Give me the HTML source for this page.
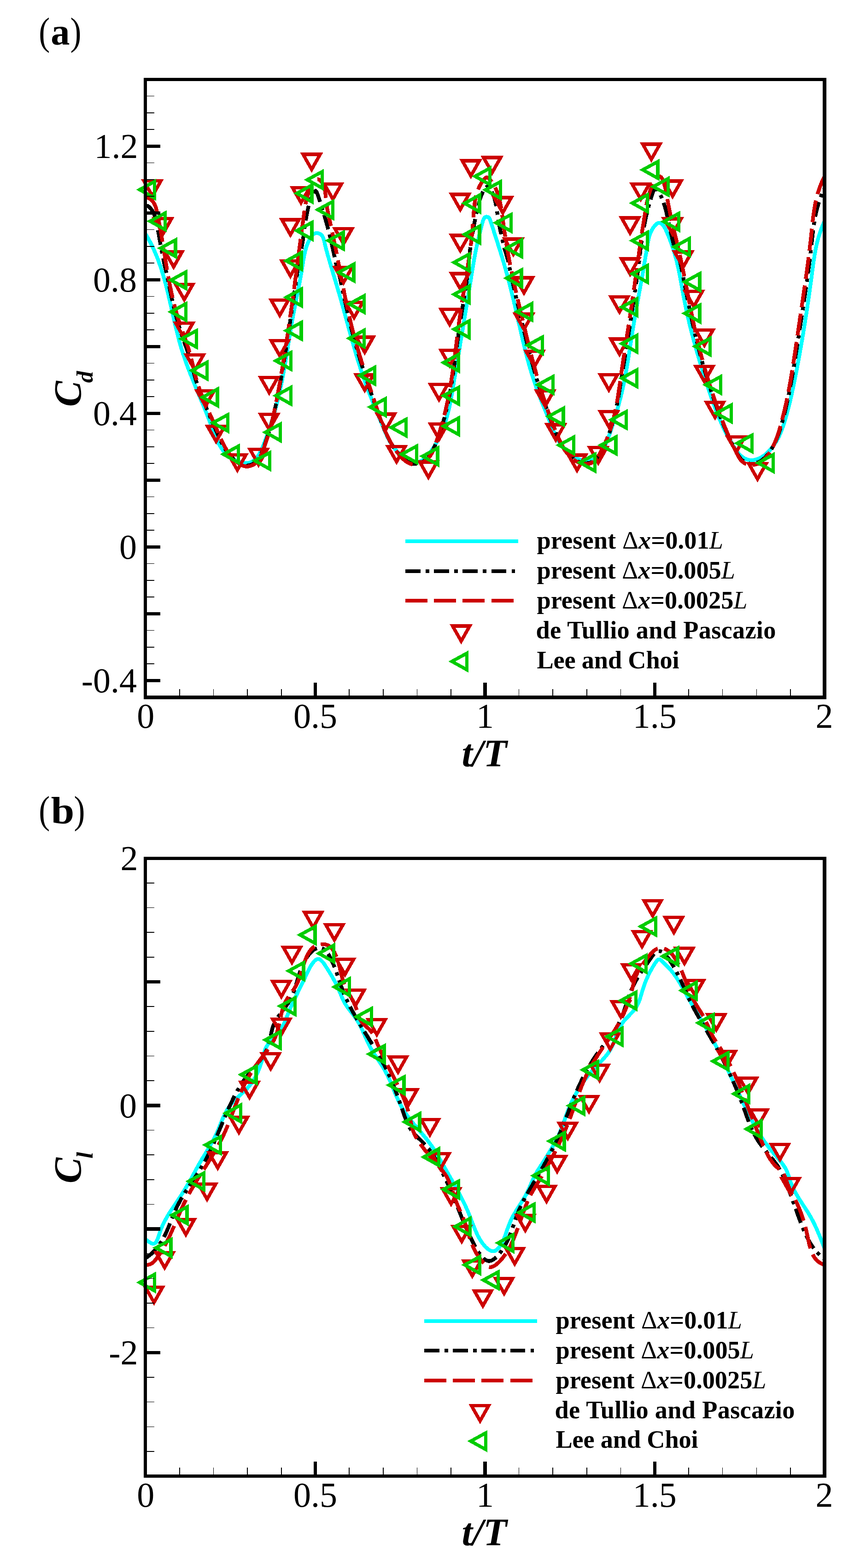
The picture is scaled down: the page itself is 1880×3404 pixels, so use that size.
<!DOCTYPE html><html lang="en"><head><meta charset="utf-8"><title>Force coefficients</title>
<style>html,body{margin:0;padding:0;background:#fff}body{width:1880px;height:3404px;overflow:hidden}svg{display:block}</style></head><body>
<svg width="1880" height="3404" viewBox="0 0 1880 3404">
<rect width="1880" height="3404" fill="#fff"/>
<g id="panel-a">
<clipPath id="ca"><rect x="315.5" y="172.5" width="1474.5" height="1341.5"/></clipPath><g clip-path="url(#ca)" fill="none" stroke-width="8.2" stroke-linejoin="round" shape-rendering="crispEdges"><path d="M313.3 503.8L315.4 507.1L317.5 510.5L319.5 513.9L321.5 517.4L323.4 520.9L325.3 524.3L327.2 527.8L328.9 531.4L330.7 534.9L332.4 538.5L334 542.1L335.6 545.7L337.2 549.3L338.7 553L340.2 556.7L341.7 560.3L343.1 564L344.4 567.8L345.8 571.5L347.1 575.2L348.4 579L349.6 582.8L350.9 586.6L352 590.4L353.2 594.2L354.4 598L355.5 601.8L356.6 605.7L357.6 609.6L358.7 613.4L359.7 617.3L360.7 621.2L361.7 625.1L362.7 629L363.7 632.9L364.6 636.8L365.6 640.7L366.5 644.6L367.4 648.5L368.3 652.5L369.2 656.4L370.1 660.3L371 664.3L371.9 668.2L372.8 672.1L373.7 676.1L374.6 680L375.5 683.9L376.4 687.9L377.2 691.8L378.1 695.7L379.1 699.7L380 703.6L380.9 707.5L381.8 711.4L382.8 715.3L383.7 719.2L384.7 723.1L385.7 727L386.7 730.9L387.7 734.8L388.7 738.6L389.7 742.5L390.8 746.3L391.9 750.2L393 754L394.2 757.8L395.3 761.6L396.5 765.4L397.7 769.2L399 772.9L400.3 776.7L401.5 780.4L402.9 784.2L404.2 787.9L405.5 791.6L406.9 795.3L408.3 799L409.7 802.7L411.1 806.4L412.6 810.1L414 813.8L415.5 817.4L417 821.1L418.5 824.8L420 828.5L421.5 832.1L423 835.8L424.5 839.5L426 843.1L427.6 846.8L429.1 850.5L430.7 854.2L432.2 857.8L433.7 861.5L435.3 865.2L436.8 868.9L438.4 872.6L439.9 876.3L441.4 880.1L443 883.8L444.5 887.5L446 891.3L447.5 895L449 898.8L450.5 902.6L452 906.4L453.5 910.2L454.9 914L456.4 917.9L457.8 921.7L459.2 925.6L460.6 929.5L462 933.3L463.5 937.2L464.9 941L466.4 944.8L468 948.6L469.6 952.3L471.3 956L473 959.6L474.8 963.2L476.8 966.7L478.8 970L480.9 973.3L483.2 976.5L485.6 979.6L488.1 982.6L490.8 985.4L493.7 988.2L496.7 990.7L499.9 993.2L503.3 995.4L506.9 997.5L510.6 999.4L514.4 1001.1L518.4 1002.6L522.3 1003.7L526.2 1004.6L530.1 1005.1L533.9 1005.3L537.6 1005.1L541.1 1004.5L544.5 1003.4L547.6 1001.9L550.5 1000.1L553.2 997.9L555.8 995.3L558.2 992.5L560.4 989.4L562.5 986L564.5 982.5L566.4 978.8L568.3 975L570 971L571.6 967L573.2 963L574.8 958.9L576.3 954.9L577.8 950.9L579.3 946.9L580.7 942.9L582.1 939L583.4 935L584.8 931.1L586.1 927.2L587.4 923.3L588.6 919.4L589.8 915.5L591 911.7L592.2 907.8L593.3 904L594.5 900.1L595.6 896.3L596.6 892.5L597.7 888.6L598.7 884.8L599.7 881L600.7 877.2L601.7 873.4L602.6 869.6L603.6 865.8L604.5 862L605.4 858.2L606.2 854.4L607.1 850.6L607.9 846.8L608.8 842.9L609.6 839.1L610.4 835.3L611.2 831.5L611.9 827.6L612.7 823.8L613.4 819.9L614.2 816L614.9 812.1L615.6 808.3L616.3 804.4L617 800.4L617.7 796.5L618.4 792.6L619.1 788.6L619.8 784.7L620.4 780.7L621.1 776.7L621.8 772.7L622.4 768.8L623.1 764.8L623.7 760.8L624.4 756.8L625 752.8L625.6 748.8L626.3 744.8L626.9 740.8L627.6 736.7L628.2 732.7L628.9 728.7L629.5 724.7L630.2 720.7L630.9 716.7L631.5 712.7L632.2 708.7L632.9 704.8L633.6 700.8L634.3 696.8L635 692.9L635.7 688.9L636.4 685L637.2 681L637.9 677.1L638.6 673.2L639.4 669.3L640.2 665.4L640.9 661.5L641.7 657.6L642.5 653.7L643.2 649.8L644 645.9L644.8 642.1L645.6 638.2L646.3 634.3L647.1 630.4L647.9 626.5L648.6 622.6L649.4 618.7L650.1 614.8L650.9 610.9L651.6 607L652.3 603.1L653 599.1L653.7 595.2L654.4 591.3L655 587.3L655.7 583.3L656.3 579.3L657 575.3L657.6 571.3L658.2 567.3L658.9 563.3L659.6 559.3L660.3 555.3L661.2 551.3L662.1 547.4L663 543.5L664.1 539.6L665.3 535.8L666.6 532L668.1 528.3L669.7 524.6L671.4 521L673.4 517.4L675.5 514L677.9 510.8L680.7 508.3L683.9 506.6L687.8 506L692 506.7L695.9 508.5L698.8 511.2L700.9 514.5L702.4 518.3L703.5 522.4L704.5 526.5L705.5 530.6L706.5 534.7L707.5 538.6L708.5 542.6L709.6 546.5L710.6 550.4L711.7 554.2L712.8 558.1L713.9 561.9L715 565.7L716.1 569.4L717.2 573.2L718.3 577L719.4 580.8L720.5 584.5L721.7 588.3L722.8 592.1L723.9 595.9L725.1 599.8L726.2 603.6L727.4 607.5L728.5 611.3L729.7 615.2L730.8 619L731.9 622.9L733.1 626.8L734.2 630.7L735.3 634.5L736.5 638.4L737.6 642.3L738.7 646.2L739.8 650.1L740.9 653.9L742 657.8L743.1 661.7L744.1 665.5L745.2 669.4L746.3 673.3L747.3 677.1L748.4 681L749.5 684.8L750.5 688.7L751.6 692.5L752.6 696.4L753.7 700.2L754.7 704.1L755.8 707.9L756.8 711.7L757.9 715.6L758.9 719.4L760 723.2L761 727.1L762.1 730.9L763.2 734.7L764.2 738.5L765.3 742.4L766.4 746.2L767.5 750L768.6 753.8L769.7 757.6L770.8 761.5L771.9 765.3L773 769.1L774.2 772.9L775.3 776.7L776.5 780.5L777.7 784.3L778.8 788.1L780 791.9L781.3 795.7L782.5 799.5L783.7 803.3L785 807.2L786.2 811L787.5 814.8L788.8 818.6L790.1 822.4L791.5 826.2L792.8 830L794.2 833.8L795.6 837.6L797 841.4L798.5 845.2L799.9 849L801.4 852.8L802.9 856.6L804.4 860.3L805.9 864.1L807.4 867.9L808.9 871.7L810.5 875.5L812 879.2L813.5 883L815.1 886.7L816.6 890.5L818.2 894.2L819.7 897.9L821.3 901.6L822.8 905.3L824.3 909L825.8 912.6L827.3 916.3L828.8 919.9L830.3 923.5L831.8 927.1L833.2 930.7L834.7 934.3L836.2 937.8L837.7 941.3L839.3 944.8L840.9 948.3L842.7 951.7L844.5 955.2L846.4 958.6L848.4 961.9L850.5 965.3L852.8 968.6L855.2 971.9L857.8 975.2L860.6 978.4L863.6 981.6L866.7 984.7L869.9 987.6L873.2 990.4L876.6 993.1L880.1 995.5L883.7 997.6L887.2 999.5L890.8 1001L894.4 1002.2L898 1003L901.6 1003.4L905 1003.3L908.5 1002.8L911.8 1001.8L915 1000.2L918.1 998.3L921.2 996L924.1 993.4L927 990.5L929.7 987.4L932.4 984.1L934.9 980.8L937.4 977.3L939.8 973.9L942.1 970.4L944.3 966.9L946.4 963.4L948.4 959.8L950.3 956.3L952.2 952.7L954 949.1L955.7 945.4L957.4 941.8L959 938.1L960.5 934.4L961.9 930.7L963.3 926.9L964.6 923.2L965.9 919.4L967.1 915.6L968.3 911.8L969.4 908L970.5 904.2L971.5 900.3L972.5 896.5L973.5 892.6L974.4 888.7L975.3 884.8L976.1 880.9L976.9 877L977.7 873.1L978.5 869.2L979.2 865.3L980 861.4L980.7 857.4L981.4 853.5L982 849.5L982.7 845.6L983.4 841.6L984 837.7L984.7 833.7L985.3 829.8L986 825.8L986.6 821.9L987.3 817.9L988 814L988.6 810L989.3 806.1L989.9 802.1L990.6 798.2L991.2 794.2L991.9 790.3L992.6 786.4L993.2 782.4L993.9 778.5L994.5 774.5L995.2 770.6L995.8 766.6L996.5 762.7L997.2 758.7L997.8 754.8L998.5 750.8L999.1 746.9L999.8 742.9L1000.4 739L1001.1 735.1L1001.8 731.1L1002.4 727.2L1003.1 723.2L1003.7 719.3L1004.4 715.3L1005 711.4L1005.7 707.4L1006.3 703.5L1007 699.5L1007.7 695.6L1008.3 691.6L1009 687.7L1009.6 683.8L1010.3 679.8L1010.9 675.9L1011.6 671.9L1012.2 668L1012.9 664L1013.5 660.1L1014.2 656.1L1014.8 652.2L1015.4 648.2L1016.1 644.3L1016.7 640.3L1017.4 636.4L1018 632.4L1018.7 628.5L1019.3 624.5L1019.9 620.5L1020.6 616.6L1021.2 612.6L1021.8 608.6L1022.5 604.7L1023.1 600.7L1023.7 596.7L1024.4 592.8L1025 588.8L1025.7 584.9L1026.3 580.9L1027 577L1027.6 573L1028.3 569.1L1029 565.2L1029.7 561.3L1030.4 557.4L1031.1 553.5L1031.9 549.6L1032.6 545.7L1033.4 541.9L1034.2 538.1L1035 534.2L1035.8 530.4L1036.7 526.6L1037.5 522.8L1038.4 518.9L1039.4 515L1040.3 511L1041.3 507L1042.3 502.8L1043.3 498.7L1044.4 494.4L1045.5 490.2L1046.6 486.1L1047.7 482.1L1048.9 478.2L1050.3 474.6L1052.5 471.8L1055.9 470.5L1059.4 471.1L1062.1 473.5L1063.8 476.9L1065.2 480.9L1066.4 484.9L1067.7 488.8L1069 492.8L1070.3 496.7L1071.6 500.6L1072.8 504.6L1074.1 508.5L1075.3 512.3L1076.6 516.2L1077.8 520.1L1079 523.9L1080.3 527.7L1081.5 531.5L1082.7 535.3L1083.9 539.1L1085.1 542.9L1086.3 546.7L1087.4 550.5L1088.6 554.3L1089.8 558L1090.9 561.8L1092 565.6L1093.2 569.4L1094.3 573.2L1095.4 577.1L1096.5 580.9L1097.6 584.7L1098.6 588.6L1099.7 592.4L1100.8 596.3L1101.8 600.1L1102.9 604L1103.9 607.9L1104.9 611.8L1105.9 615.6L1106.9 619.5L1107.9 623.4L1108.9 627.3L1109.9 631.2L1110.8 635.1L1111.8 639L1112.8 642.9L1113.7 646.8L1114.7 650.8L1115.6 654.7L1116.5 658.6L1117.5 662.5L1118.4 666.4L1119.3 670.3L1120.2 674.2L1121.1 678.1L1122 682L1122.9 685.9L1123.8 689.8L1124.7 693.7L1125.5 697.6L1126.4 701.5L1127.3 705.3L1128.2 709.2L1129.1 713.1L1129.9 717L1130.8 720.8L1131.7 724.7L1132.6 728.6L1133.5 732.4L1134.4 736.3L1135.3 740.2L1136.2 744L1137.2 747.9L1138.1 751.8L1139 755.6L1140 759.5L1141 763.3L1141.9 767.2L1142.9 771L1143.9 774.9L1145 778.7L1146 782.5L1147.1 786.4L1148.1 790.2L1149.2 794.1L1150.3 797.9L1151.4 801.7L1152.6 805.6L1153.7 809.4L1154.9 813.2L1156.1 817.1L1157.4 820.9L1158.6 824.7L1159.9 828.6L1161.2 832.4L1162.5 836.2L1163.9 840.1L1165.3 843.9L1166.7 847.7L1168.1 851.5L1169.5 855.3L1171 859.1L1172.5 862.9L1173.9 866.7L1175.4 870.5L1176.9 874.3L1178.4 878.1L1179.9 881.8L1181.5 885.6L1183 889.3L1184.5 893L1186 896.7L1187.5 900.4L1189 904.1L1190.5 907.8L1192 911.4L1193.5 915L1194.9 918.7L1196.4 922.2L1197.9 925.8L1199.3 929.4L1200.8 932.9L1202.3 936.4L1203.9 939.9L1205.5 943.3L1207.2 946.8L1209 950.2L1210.9 953.6L1212.8 956.9L1214.9 960.3L1217.1 963.5L1219.4 966.8L1221.9 970.1L1224.5 973.2L1227.3 976.4L1230.2 979.4L1233.3 982.3L1236.5 985.1L1239.8 987.8L1243.3 990.2L1246.9 992.5L1250.6 994.5L1254.5 996.3L1258.4 997.8L1262.4 999L1266.4 999.9L1270.3 1000.5L1274.2 1000.7L1278 1000.5L1281.6 999.9L1285 998.9L1288.3 997.5L1291.4 995.8L1294.3 993.7L1297 991.3L1299.6 988.6L1302.1 985.7L1304.4 982.6L1306.7 979.3L1308.7 975.8L1310.7 972.2L1312.6 968.5L1314.4 964.8L1316.1 961L1317.7 957.1L1319.2 953.3L1320.7 949.5L1322.1 945.7L1323.5 941.9L1324.8 938.1L1326.1 934.3L1327.3 930.5L1328.6 926.6L1329.8 922.8L1331 919L1332.2 915.2L1333.4 911.4L1334.6 907.5L1335.8 903.7L1336.9 899.9L1338.1 896.1L1339.2 892.2L1340.3 888.4L1341.4 884.6L1342.5 880.7L1343.5 876.9L1344.6 873L1345.6 869.2L1346.6 865.3L1347.6 861.4L1348.5 857.6L1349.5 853.7L1350.4 849.8L1351.3 845.9L1352.2 842L1353 838.1L1353.9 834.2L1354.7 830.3L1355.5 826.4L1356.2 822.5L1357 818.6L1357.7 814.6L1358.5 810.7L1359.2 806.8L1359.9 802.8L1360.6 798.9L1361.2 794.9L1361.9 791L1362.6 787L1363.2 783.1L1363.9 779.1L1364.5 775.2L1365.1 771.2L1365.7 767.2L1366.3 763.3L1367 759.3L1367.6 755.3L1368.2 751.4L1368.8 747.4L1369.4 743.5L1370 739.5L1370.6 735.5L1371.2 731.6L1371.8 727.6L1372.5 723.7L1373.1 719.7L1373.7 715.8L1374.4 711.8L1375 707.9L1375.7 704L1376.3 700L1377 696.1L1377.7 692.1L1378.3 688.2L1379 684.3L1379.7 680.3L1380.4 676.4L1381.1 672.5L1381.8 668.6L1382.5 664.6L1383.2 660.7L1383.9 656.8L1384.6 652.8L1385.3 648.9L1386 645L1386.7 641L1387.4 637.1L1388.2 633.2L1388.9 629.2L1389.6 625.3L1390.3 621.4L1391 617.4L1391.7 613.5L1392.4 609.5L1393.1 605.6L1393.8 601.6L1394.5 597.7L1395.2 593.7L1395.9 589.7L1396.5 585.8L1397.2 581.8L1397.9 577.8L1398.6 573.8L1399.2 569.9L1399.9 565.9L1400.6 562L1401.2 558L1401.9 554.1L1402.6 550.1L1403.2 546.2L1403.9 542.4L1404.6 538.5L1405.3 534.6L1405.9 530.8L1406.6 527L1407.3 523.3L1408 519.5L1408.8 515.8L1409.8 511.9L1411.1 508L1412.8 503.9L1415 499.6L1417.6 495.1L1420.6 491L1423.7 487.5L1426.7 485.1L1429.6 484L1432.3 483.9L1434.9 484.9L1437.4 486.8L1439.7 489.4L1441.9 492.6L1444 496.3L1446 500.3L1447.9 504.5L1449.6 508.8L1451.4 513L1453 517.1L1454.5 521.1L1456 524.9L1457.4 528.7L1458.8 532.5L1460 536.2L1461.3 539.9L1462.5 543.6L1463.6 547.4L1464.7 551.1L1465.8 554.9L1466.8 558.7L1467.8 562.5L1468.8 566.3L1469.7 570.1L1470.6 574L1471.5 577.8L1472.3 581.7L1473.2 585.6L1474 589.5L1474.8 593.4L1475.5 597.3L1476.3 601.2L1477 605.2L1477.8 609.1L1478.5 613L1479.2 617L1479.9 620.9L1480.6 624.8L1481.3 628.8L1482.1 632.7L1482.8 636.7L1483.5 640.6L1484.3 644.6L1485 648.5L1485.8 652.5L1486.6 656.4L1487.4 660.4L1488.2 664.3L1489 668.2L1489.8 672.2L1490.7 676.1L1491.5 680L1492.4 683.9L1493.3 687.8L1494.2 691.7L1495.1 695.7L1496 699.6L1497 703.5L1497.9 707.4L1498.9 711.3L1499.8 715.1L1500.8 719L1501.8 722.9L1502.8 726.8L1503.8 730.7L1504.9 734.5L1505.9 738.4L1507 742.3L1508 746.1L1509.1 750L1510.2 753.9L1511.2 757.7L1512.3 761.6L1513.4 765.4L1514.6 769.2L1515.7 773.1L1516.8 776.9L1517.9 780.7L1519.1 784.6L1520.2 788.4L1521.4 792.2L1522.6 796L1523.7 799.8L1524.9 803.7L1526.1 807.5L1527.3 811.3L1528.5 815.1L1529.7 818.8L1530.9 822.6L1532.2 826.4L1533.4 830.2L1534.6 834L1535.9 837.8L1537.1 841.5L1538.4 845.3L1539.6 849L1540.9 852.8L1542.1 856.6L1543.4 860.3L1544.7 864.1L1546 867.8L1547.3 871.5L1548.7 875.3L1550 879L1551.4 882.7L1552.8 886.4L1554.2 890.2L1555.6 893.9L1557.1 897.6L1558.6 901.3L1560.1 905L1561.6 908.7L1563.2 912.4L1564.8 916L1566.4 919.7L1568.1 923.4L1569.8 927.1L1571.5 930.7L1573.3 934.4L1575.1 938.1L1577 941.7L1578.8 945.4L1580.8 949L1582.8 952.6L1584.8 956.3L1586.8 959.9L1589 963.5L1591.1 967.1L1593.4 970.7L1595.7 974.2L1598 977.5L1600.5 980.8L1603 983.9L1605.7 986.7L1608.4 989.4L1611.3 991.8L1614.3 993.9L1617.4 995.6L1620.7 997.1L1624.1 998.1L1627.6 998.8L1631.4 999L1635.3 998.8L1639.3 998L1643.4 996.9L1647.4 995.4L1651.3 993.5L1655 991.3L1658.6 988.9L1662 986.2L1665.2 983.3L1668.3 980.4L1671.2 977.3L1673.9 974.1L1676.5 971L1678.9 967.7L1681.2 964.5L1683.4 961.2L1685.4 957.9L1687.4 954.5L1689.2 951.1L1690.9 947.7L1692.6 944.2L1694.1 940.7L1695.6 937.2L1697 933.7L1698.3 930.1L1699.6 926.5L1700.8 922.9L1702 919.2L1703.2 915.5L1704.3 911.8L1705.4 908.1L1706.5 904.4L1707.6 900.6L1708.6 896.8L1709.6 893L1710.6 889.2L1711.6 885.4L1712.6 881.6L1713.6 877.7L1714.5 873.8L1715.5 869.9L1716.4 866L1717.3 862.1L1718.2 858.2L1719 854.2L1719.9 850.3L1720.8 846.3L1721.6 842.4L1722.4 838.4L1723.3 834.5L1724.1 830.5L1724.9 826.5L1725.7 822.5L1726.5 818.5L1727.3 814.6L1728 810.6L1728.8 806.6L1729.6 802.6L1730.3 798.7L1731.1 794.7L1731.8 790.7L1732.6 786.7L1733.3 782.7L1734.1 778.8L1734.8 774.8L1735.5 770.8L1736.2 766.8L1736.9 762.8L1737.6 758.9L1738.3 754.9L1739 750.9L1739.7 746.9L1740.4 743L1741.1 739L1741.8 735L1742.4 731.1L1743.1 727.1L1743.8 723.1L1744.4 719.2L1745.1 715.2L1745.7 711.2L1746.3 707.3L1747 703.3L1747.6 699.3L1748.2 695.4L1748.8 691.4L1749.5 687.4L1750.1 683.5L1750.7 679.5L1751.3 675.6L1751.9 671.6L1752.5 667.7L1753.1 663.7L1753.6 659.8L1754.2 655.8L1754.8 651.9L1755.4 647.9L1755.9 644L1756.5 640.1L1757 636.1L1757.6 632.2L1758.1 628.2L1758.7 624.3L1759.2 620.4L1759.8 616.5L1760.3 612.5L1760.8 608.6L1761.4 604.7L1761.9 600.8L1762.4 596.8L1762.9 592.9L1763.4 589L1763.9 585.1L1764.5 581.2L1765 577.3L1765.5 573.4L1766.1 569.5L1766.6 565.6L1767.2 561.7L1767.8 557.8L1768.4 553.9L1769.1 550L1769.8 546.1L1770.5 542.3L1771.3 538.4L1772.1 534.5L1772.9 530.6L1773.9 526.8L1774.8 522.9L1775.8 519L1776.9 515.2L1778 511.3L1779.3 507.5L1780.5 503.6L1781.9 499.8L1783.3 495.9L1784.8 492.1L1786.4 488.2L1788.1 484.4L1789.8 480.6L1791.7 476.7L1793.6 472.9" stroke="#00ffff"/><path d="M313.3 447.5L314.8 447.4L316.3 447.3L317.8 447.2L319.3 447L320.8 446.9L322.3 448L323.8 449.2L325.3 450.7L326.8 452.3L328.3 454.2L329.8 456.3L331.3 458.7L332.8 461.5L334.3 464.8L335.8 468.6L337.3 473.2L338.8 478.7L340.3 485.3L341.8 493.1L343.3 501.5L344.8 510L346.3 518.5L347.8 527L349.3 535.3L350.8 543.4L352.3 551.3L353.8 559L355.3 566.3L356.8 573.5L358.3 580.2L359.8 585.8L361.3 591.8L362.8 598.4L364.3 605.5L365.8 613.3L367.3 621L368.8 628.4L370.3 635.5L371.8 642.6L373.3 649.4L374.8 656L376.3 662.4L377.8 668.6L379.3 674.7L380.8 680.5L382.3 686.2L383.8 691.7L385.3 697.1L386.8 702.3L388.3 707.3L389.8 712.1L391.3 716.9L392.8 721.5L394.3 726L395.8 730.4L397.3 734.8L398.8 739.1L400.3 743.4L401.8 747.6L403.3 751.9L404.8 756.2L406.3 760.5L407.8 765L409.3 769.5L410.8 774.1L412.3 778.9L413.8 784L415.3 789.2L416.8 794.7L418.3 800.2L419.8 805.8L421.3 811.4L422.8 816.8L424.3 822.1L425.8 827.1L427.3 831.9L428.8 836.5L430.3 840.9L431.8 845.1L433.3 849.2L434.8 853.1L436.3 857L437.8 860.8L439.3 864.6L440.8 868.3L442.3 871.9L443.8 875.6L445.3 879.1L446.8 882.7L448.3 886.2L449.8 889.8L451.3 893.3L452.8 896.8L454.3 900.3L455.8 903.8L457.3 907.3L458.8 910.9L460.3 914.4L461.8 918L463.3 921.5L464.8 925L466.3 928.5L467.8 932L469.3 935.4L470.8 938.8L472.3 942.2L473.8 945.6L475.3 948.9L476.8 952.1L478.3 955.2L479.8 958.3L481.3 961.3L482.8 964.1L484.3 966.9L485.8 969.5L487.3 972.1L488.8 974.5L490.3 976.8L491.8 979L493.3 981.2L494.8 983.2L496.3 985.1L497.8 986.9L499.3 988.7L500.8 990.4L502.3 992L503.8 993.5L505.3 995L506.8 996.4L508.3 997.7L509.8 999L511.3 1000.2L512.8 1001.3L514.3 1002.4L515.8 1003.5L517.3 1004.5L518.8 1005.4L520.3 1006.3L521.8 1007.1L523.3 1007.8L524.8 1008.4L526.3 1009L527.8 1009.5L529.3 1009.9L530.8 1010.2L532.3 1010.4L533.8 1010.6L535.3 1010.6L536.8 1010.6L538.3 1010.5L539.8 1010.3L541.3 1010L542.8 1009.6L544.3 1009.2L545.8 1008.6L547.3 1008L548.8 1007.3L550.3 1006.4L551.8 1005.4L553.3 1004.3L554.8 1003L556.3 1001.6L557.8 1000L559.3 998.1L560.8 996.1L562.3 993.8L563.8 991.1L565.3 988.2L566.8 985L568.3 981.6L569.8 978L571.3 974.2L572.8 970.3L574.3 966.3L575.8 962.1L577.3 957.9L578.8 953.5L580.3 949L581.8 944.4L583.3 939.6L584.8 934.7L586.3 929.6L587.8 924.3L589.3 918.8L590.8 913.1L592.3 907.3L593.8 901.2L595.3 894.9L596.8 888.3L598.3 881.6L599.8 874.6L601.3 867.3L602.8 859.9L604.3 852.3L605.8 844.5L607.3 836.6L608.8 828.6L610.3 820.3L611.8 811.9L613.3 803.4L614.8 794.6L616.3 785.7L617.8 776.6L619.3 767.4L620.8 758L622.3 748.4L623.8 738.7L625.3 728.8L626.8 718.9L628.3 708.9L629.8 698.8L631.3 688.6L632.8 678.4L634.3 668.2L635.8 657.9L637.3 647.7L638.8 637.4L640.3 627.1L641.8 616.8L643.3 606.5L644.8 596.2L646.3 586.3L647.8 576.5L649.3 567.2L650.8 558.8L652.3 551.4L653.8 543.8L655.3 535.3L656.8 526.3L658.3 516.5L659.8 505.8L661.3 494.8L662.8 484.4L664.3 474.8L665.8 466.4L667.3 458.9L668.8 452.2L670.3 446.2L671.8 440.8L673.3 436.1L674.8 432L676.3 428.4L677.8 425.2L679.3 422.3L680.8 419.6L682.3 417.2L683.8 415.1L685.3 414.4L686.8 415.8L688.3 419L689.8 423.2L691.3 427.6L692.8 432.1L694.3 436.6L695.8 441.2L697.3 445.8L698.8 450.5L700.3 455.3L701.8 460.2L703.3 465.2L704.8 470.2L706.3 475.4L707.8 480.7L709.3 486.1L710.8 491.6L712.3 497.3L713.8 503.2L715.3 509.2L716.8 515.3L718.3 521.7L719.8 528.1L721.3 534.8L722.8 541.5L724.3 548.3L725.8 555.1L727.3 561.9L728.8 568.6L730.3 575.1L731.8 580.2L733.3 585.3L734.8 590.7L736.3 596.2L737.8 602.2L739.3 609.1L740.8 616.2L742.3 623.3L743.8 630.3L745.3 637.3L746.8 644.3L748.3 651.2L749.8 658L751.3 664.8L752.8 671.4L754.3 678L755.8 684.4L757.3 690.8L758.8 697L760.3 703.2L761.8 709.2L763.3 715.1L764.8 721L766.3 726.7L767.8 732.3L769.3 737.8L770.8 743.2L772.3 748.6L773.8 753.8L775.3 759L776.8 764.1L778.3 769.2L779.8 774.2L781.3 779.1L782.8 784L784.3 788.8L785.8 793.6L787.3 798.3L788.8 803L790.3 807.6L791.8 812.2L793.3 816.8L794.8 821.3L796.3 825.8L797.8 830.2L799.3 834.6L800.8 839L802.3 843.4L803.8 847.8L805.3 852.1L806.8 856.4L808.3 860.7L809.8 865L811.3 869.3L812.8 873.6L814.3 877.9L815.8 882.1L817.3 886.4L818.8 890.7L820.3 894.9L821.8 899.2L823.3 903.3L824.8 907.5L826.3 911.5L827.8 915.5L829.3 919.5L830.8 923.3L832.3 927.1L833.8 930.8L835.3 934.4L836.8 937.9L838.3 941.2L839.8 944.5L841.3 947.6L842.8 950.7L844.3 953.6L845.8 956.4L847.3 959.1L848.8 961.7L850.3 964.2L851.8 966.6L853.3 968.9L854.8 971.2L856.3 973.4L857.8 975.5L859.3 977.5L860.8 979.5L862.3 981.4L863.8 983.2L865.3 985L866.8 986.8L868.3 988.5L869.8 990.1L871.3 991.6L872.8 993.1L874.3 994.5L875.8 995.8L877.3 997.1L878.8 998.3L880.3 999.5L881.8 1000.5L883.3 1001.5L884.8 1002.3L886.3 1003.2L887.8 1003.9L889.3 1004.6L890.8 1005.2L892.3 1005.6L893.8 1006.1L895.3 1006.4L896.8 1006.7L898.3 1006.9L899.8 1007L901.3 1007L902.8 1006.9L904.3 1006.8L905.8 1006.6L907.3 1006.3L908.8 1006L910.3 1005.5L911.8 1005.1L913.3 1004.5L914.8 1003.8L916.3 1003.1L917.8 1002.3L919.3 1001.4L920.8 1000.4L922.3 999.4L923.8 998.2L925.3 997L926.8 995.7L928.3 994.2L929.8 992.7L931.3 990.9L932.8 989.1L934.3 987.1L935.8 984.8L937.3 982.3L938.8 979.5L940.3 976.5L941.8 973.1L943.3 969.6L944.8 965.9L946.3 962.1L947.8 958.2L949.3 954.3L950.8 950.3L952.3 946.2L953.8 942L955.3 937.6L956.8 933.2L958.3 928.6L959.8 923.9L961.3 919L962.8 913.9L964.3 908.6L965.8 903.1L967.3 897.3L968.8 891.2L970.3 884.9L971.8 878.2L973.3 871.2L974.8 863.8L976.3 855.9L977.8 847.7L979.3 838.9L980.8 829.8L982.3 820.1L983.8 810L985.3 799.6L986.8 788.8L988.3 777.9L989.8 766.7L991.3 755.5L992.8 744.2L994.3 733.1L995.8 722.3L997.3 711.6L998.8 701.3L1000.3 691.4L1001.8 681.7L1003.3 672.3L1004.8 663L1006.3 653.8L1007.8 644.6L1009.3 635.5L1010.8 626.4L1012.3 617L1013.8 604.7L1015.3 591.6L1016.8 577.5L1018.3 562.7L1019.8 547.6L1021.3 536L1022.8 525.7L1024.3 516L1025.8 506.8L1027.3 498.1L1028.8 489.9L1030.3 482.1L1031.8 474.7L1033.3 467.7L1034.8 461L1036.3 454.6L1037.8 448.4L1039.3 442.5L1040.8 436.9L1042.3 431.8L1043.8 427.3L1045.3 423.3L1046.8 419.8L1048.3 416.7L1049.8 414L1051.3 411.7L1052.8 409.6L1054.3 407.7L1055.8 406.2L1057.3 405.3L1058.8 405.3L1060.3 406.2L1061.8 407.7L1063.3 409.6L1064.8 411.8L1066.3 414.1L1067.8 416.8L1069.3 419.9L1070.8 423.4L1072.3 427.4L1073.8 432.2L1075.3 438L1076.8 445.2L1078.3 454L1079.8 464.1L1081.3 474.1L1082.8 483L1084.3 491L1085.8 498.4L1087.3 505.5L1088.8 512.4L1090.3 519.2L1091.8 525.9L1093.3 532.6L1094.8 539.4L1096.3 543.5L1097.8 548L1099.3 553L1100.8 558.3L1102.3 563.2L1103.8 569.4L1105.3 576.8L1106.8 584.1L1108.3 591.2L1109.8 598.2L1111.3 605.1L1112.8 611.9L1114.3 618.7L1115.8 625.4L1117.3 632L1118.8 638.6L1120.3 645.1L1121.8 651.6L1123.3 658.1L1124.8 664.5L1126.3 671L1127.8 677.4L1129.3 683.8L1130.8 690.1L1132.3 696.4L1133.8 702.8L1135.3 709L1136.8 715.3L1138.3 721.5L1139.8 727.7L1141.3 733.8L1142.8 739.9L1144.3 746L1145.8 751.9L1147.3 757.8L1148.8 763.7L1150.3 769.4L1151.8 775.1L1153.3 780.7L1154.8 786.3L1156.3 791.7L1157.8 797.1L1159.3 802.4L1160.8 807.7L1162.3 812.8L1163.8 817.9L1165.3 822.9L1166.8 827.8L1168.3 832.7L1169.8 837.5L1171.3 842.3L1172.8 846.9L1174.3 851.5L1175.8 856.1L1177.3 860.6L1178.8 865.1L1180.3 869.4L1181.8 873.8L1183.3 878.1L1184.8 882.3L1186.3 886.5L1187.8 890.7L1189.3 894.8L1190.8 898.9L1192.3 902.9L1193.8 907L1195.3 910.9L1196.8 914.9L1198.3 918.8L1199.8 922.6L1201.3 926.4L1202.8 930.1L1204.3 933.7L1205.8 937.3L1207.3 940.8L1208.8 944.2L1210.3 947.5L1211.8 950.8L1213.3 954L1214.8 957.1L1216.3 960.1L1217.8 963L1219.3 965.7L1220.8 968.3L1222.3 970.8L1223.8 973.1L1225.3 975.3L1226.8 977.4L1228.3 979.4L1229.8 981.3L1231.3 983L1232.8 984.7L1234.3 986.4L1235.8 987.9L1237.3 989.4L1238.8 990.7L1240.3 992.1L1241.8 993.3L1243.3 994.5L1244.8 995.6L1246.3 996.7L1247.8 997.7L1249.3 998.6L1250.8 999.5L1252.3 1000.3L1253.8 1001.1L1255.3 1001.7L1256.8 1002.4L1258.3 1003L1259.8 1003.5L1261.3 1004L1262.8 1004.4L1264.3 1004.7L1265.8 1005L1267.3 1005.2L1268.8 1005.4L1270.3 1005.6L1271.8 1005.6L1273.3 1005.6L1274.8 1005.6L1276.3 1005.4L1277.8 1005.2L1279.3 1004.9L1280.8 1004.5L1282.3 1004L1283.8 1003.4L1285.3 1002.7L1286.8 1001.8L1288.3 1000.9L1289.8 999.8L1291.3 998.6L1292.8 997.1L1294.3 995.7L1295.8 993.9L1297.3 992.1L1298.8 990.1L1300.3 987.9L1301.8 985.6L1303.3 983.1L1304.8 980.5L1306.3 977.8L1307.8 975L1309.3 972.1L1310.8 969.1L1312.3 966L1313.8 962.7L1315.3 959.3L1316.8 955.8L1318.3 952.2L1319.8 948.4L1321.3 944.4L1322.8 940.3L1324.3 936L1325.8 931.5L1327.3 926.8L1328.8 921.9L1330.3 916.7L1331.8 911.3L1333.3 905.6L1334.8 899.6L1336.3 893.2L1337.8 886.3L1339.3 879L1340.8 871.2L1342.3 862.8L1343.8 854L1345.3 844.8L1346.8 835.4L1348.3 825.9L1349.8 816.6L1351.3 807.3L1352.8 798.1L1354.3 789L1355.8 779.8L1357.3 770.6L1358.8 761.4L1360.3 752.1L1361.8 742.8L1363.3 733.3L1364.8 723.8L1366.3 714.1L1367.8 704.4L1369.3 694.6L1370.8 684.6L1372.3 674.6L1373.8 664.5L1375.3 654.4L1376.8 644.2L1378.3 634L1379.8 623.8L1381.3 613.6L1382.8 603.4L1384.3 592.7L1385.8 581.1L1387.3 568.8L1388.8 555.9L1390.3 542.9L1391.8 531L1393.3 520.9L1394.8 511.3L1396.3 502.3L1397.8 493.8L1399.3 485.8L1400.8 478.3L1402.3 471.1L1403.8 464.4L1405.3 458.1L1406.8 452.3L1408.3 446.9L1409.8 441.9L1411.3 437L1412.8 431.9L1414.3 426.7L1415.8 421.8L1417.3 417.7L1418.8 414.3L1420.3 411.9L1421.8 410.4L1423.3 409.9L1424.8 410.3L1426.3 411.6L1427.8 413.3L1429.3 415.4L1430.8 417.8L1432.3 420.5L1433.8 423.5L1435.3 426.7L1436.8 430.2L1438.3 433.9L1439.8 437.8L1441.3 442.1L1442.8 446.8L1444.3 452L1445.8 457.6L1447.3 463.8L1448.8 470.6L1450.3 477.7L1451.8 484.8L1453.3 491.7L1454.8 498.4L1456.3 504.9L1457.8 511.4L1459.3 517.8L1460.8 524.3L1462.3 530.8L1463.8 537.3L1465.3 543.2L1466.8 545.5L1468.3 547.8L1469.8 549.8L1471.3 551.6L1472.8 552.7L1474.3 558.7L1475.8 565.6L1477.3 572.6L1478.8 579.9L1480.3 587.3L1481.8 594.8L1483.3 602.3L1484.8 609.9L1486.3 617.5L1487.8 625.1L1489.3 632.6L1490.8 640.2L1492.3 647.7L1493.8 655.1L1495.3 662.5L1496.8 669.9L1498.3 677.1L1499.8 684.3L1501.3 691.4L1502.8 698.4L1504.3 705.2L1505.8 711.9L1507.3 718.5L1508.8 725L1510.3 731.4L1511.8 737.6L1513.3 743.7L1514.8 749.7L1516.3 755.6L1517.8 761.4L1519.3 767.1L1520.8 772.6L1522.3 778.2L1523.8 783.6L1525.3 788.9L1526.8 794.2L1528.3 799.4L1529.8 804.5L1531.3 809.6L1532.8 814.6L1534.3 819.5L1535.8 824.4L1537.3 829.2L1538.8 833.9L1540.3 838.6L1541.8 843.3L1543.3 847.9L1544.8 852.4L1546.3 856.9L1547.8 861.3L1549.3 865.6L1550.8 870L1552.3 874.2L1553.8 878.4L1555.3 882.5L1556.8 886.6L1558.3 890.7L1559.8 894.7L1561.3 898.6L1562.8 902.5L1564.3 906.3L1565.8 910.1L1567.3 913.8L1568.8 917.5L1570.3 921.2L1571.8 924.8L1573.3 928.3L1574.8 931.8L1576.3 935.3L1577.8 938.7L1579.3 942L1580.8 945.4L1582.3 948.6L1583.8 951.9L1585.3 955.1L1586.8 958.2L1588.3 961.3L1589.8 964.4L1591.3 967.4L1592.8 970.4L1594.3 973.3L1595.8 976.2L1597.3 979L1598.8 981.8L1600.3 984.5L1601.8 987.1L1603.3 989.5L1604.8 991.7L1606.3 993.8L1607.8 995.6L1609.3 997.2L1610.8 998.6L1612.3 999.9L1613.8 1001L1615.3 1002.1L1616.8 1002.9L1618.3 1003.8L1619.8 1004.4L1621.3 1005L1622.8 1005.5L1624.3 1005.9L1625.8 1006.3L1627.3 1006.5L1628.8 1006.7L1630.3 1006.7L1631.8 1006.7L1633.3 1006.7L1634.8 1006.5L1636.3 1006.3L1637.8 1006.1L1639.3 1005.7L1640.8 1005.3L1642.3 1004.8L1643.8 1004.3L1645.3 1003.7L1646.8 1003.1L1648.3 1002.3L1649.8 1001.5L1651.3 1000.7L1652.8 999.7L1654.3 998.7L1655.8 997.5L1657.3 996.3L1658.8 995L1660.3 993.6L1661.8 992.1L1663.3 990.5L1664.8 988.8L1666.3 987L1667.8 985.1L1669.3 983.1L1670.8 981L1672.3 978.8L1673.8 976.5L1675.3 974.1L1676.8 971.6L1678.3 968.9L1679.8 966.1L1681.3 963.1L1682.8 960L1684.3 956.7L1685.8 953.2L1687.3 949.5L1688.8 945.6L1690.3 941.4L1691.8 937L1693.3 932.4L1694.8 927.6L1696.3 922.5L1697.8 917.3L1699.3 912L1700.8 906.4L1702.3 900.6L1703.8 894.6L1705.3 888.5L1706.8 882.1L1708.3 875.5L1709.8 868.7L1711.3 861.7L1712.8 854.4L1714.3 846.9L1715.8 839.1L1717.3 831.1L1718.8 822.8L1720.3 814.3L1721.8 805.5L1723.3 796.6L1724.8 787.4L1726.3 778L1727.8 768.5L1729.3 758.9L1730.8 749.3L1732.3 739.5L1733.8 729.8L1735.3 720.1L1736.8 710.4L1738.3 700.7L1739.8 691L1741.3 681.2L1742.8 671.3L1744.3 661.4L1745.8 651.3L1747.3 641.1L1748.8 630.8L1750.3 620.3L1751.8 609.7L1753.3 598.8L1754.8 587.6L1756.3 576.2L1757.8 564.3L1759.3 552L1760.8 539.2L1762.3 525.7L1763.8 512.2L1765.3 499.7L1766.8 488.7L1768.3 479.1L1769.8 470.8L1771.3 463.5L1772.8 456.9L1774.3 451L1775.8 445.6L1777.3 440.7L1778.8 436.1L1780.3 431.8L1781.8 427.8L1783.3 424L1784.8 420.5L1786.3 417.1L1787.8 413.8L1789.3 410.7L1790.8 407.8L1792.3 405" stroke="#000" stroke-dasharray="32.5 11.5 7.5 10.7" stroke-dashoffset="-4"/><path d="M311.3 426.7L316.2 427.6L320.5 429L324.2 430.8L327.4 433L330.2 435.6L332.6 438.5L334.6 441.7L336.3 445.1L337.7 448.7L338.9 452.4L340 456.3L340.9 460.2L341.7 464.2L342.5 468.2L343.3 472.2L344.1 476.2L344.9 480.2L345.6 484.2L346.4 488.2L347.1 492.2L347.8 496.2L348.5 500.2L349.2 504.1L349.9 508.1L350.6 512.1L351.2 516L351.9 520L352.6 523.9L353.2 527.9L353.8 531.8L354.5 535.8L355.1 539.7L355.8 543.7L356.4 547.6L357 551.6L357.7 555.5L358.3 559.4L359 563.3L359.6 567.3L360.3 571.2L360.9 575.1L361.6 579L362.2 582.9L362.9 586.9L363.6 590.8L364.3 594.7L365 598.6L365.7 602.5L366.4 606.4L367.1 610.3L367.9 614.2L368.6 618.1L369.4 622L370.2 625.8L371 629.7L371.8 633.6L372.7 637.5L373.5 641.4L374.4 645.3L375.3 649.1L376.3 653L377.2 656.9L378.2 660.8L379.2 664.6L380.2 668.5L381.2 672.4L382.3 676.2L383.4 680.1L384.5 684L385.7 687.8L386.8 691.7L388.1 695.6L389.3 699.4L390.6 703.3L391.9 707.1L393.2 711L394.5 714.8L395.9 718.7L397.3 722.5L398.6 726.4L400 730.2L401.4 734.1L402.7 737.9L404 741.8L405.4 745.6L406.6 749.4L407.9 753.3L409.1 757.1L410.3 760.9L411.4 764.8L412.5 768.6L413.6 772.4L414.6 776.2L415.5 780L416.5 783.8L417.4 787.7L418.3 791.5L419.2 795.3L420.1 799.1L421 802.8L421.9 806.6L422.9 810.4L423.8 814.2L424.8 818L425.9 821.8L426.9 825.5L428.1 829.3L429.2 833.1L430.5 836.8L431.7 840.6L433 844.3L434.4 848.1L435.8 851.8L437.2 855.5L438.7 859.3L440.1 863L441.7 866.7L443.2 870.5L444.8 874.2L446.4 877.9L448 881.6L449.6 885.4L451.3 889.1L452.9 892.8L454.6 896.5L456.2 900.2L457.9 903.9L459.6 907.7L461.3 911.4L462.9 915.1L464.6 918.8L466.2 922.5L467.9 926.2L469.5 930L471.1 933.7L472.7 937.4L474.3 941.1L475.9 944.8L477.6 948.5L479.2 952.1L480.9 955.8L482.6 959.4L484.3 962.9L486.2 966.5L488 969.9L490 973.4L492 976.7L494.1 980L496.3 983.3L498.7 986.5L501.1 989.6L503.6 992.6L506.3 995.5L509.1 998.4L512.1 1001.1L515.2 1003.8L518.5 1006.3L521.9 1008.5L525.5 1010.3L529.2 1011.7L533.1 1012.5L537.1 1012.7L541.1 1012.2L545 1011.1L548.8 1009.5L552.3 1007.5L555.4 1005L558.2 1002.2L560.6 999.1L562.7 995.7L564.7 992.1L566.4 988.4L568.1 984.6L569.6 980.8L571.1 976.9L572.6 973.1L574 969.2L575.4 965.4L576.7 961.5L578 957.7L579.3 953.8L580.6 950L581.8 946.1L582.9 942.3L584.1 938.4L585.2 934.5L586.3 930.7L587.3 926.8L588.3 923L589.3 919.1L590.3 915.2L591.3 911.3L592.2 907.5L593.1 903.6L594 899.7L594.9 895.8L595.7 891.9L596.5 888.1L597.4 884.2L598.2 880.3L599 876.4L599.7 872.5L600.5 868.6L601.2 864.7L602 860.8L602.7 856.9L603.4 853L604.2 849L604.9 845.1L605.6 841.2L606.3 837.3L607 833.4L607.7 829.4L608.4 825.5L609.1 821.6L609.8 817.6L610.4 813.7L611.1 809.7L611.8 805.8L612.5 801.8L613.1 797.9L613.8 793.9L614.4 790L615.1 786L615.7 782.1L616.4 778.1L617 774.2L617.6 770.2L618.3 766.3L618.9 762.3L619.5 758.3L620.1 754.4L620.8 750.4L621.4 746.4L622 742.5L622.6 738.5L623.2 734.5L623.8 730.6L624.4 726.6L625 722.6L625.6 718.7L626.2 714.7L626.7 710.8L627.3 706.8L627.9 702.8L628.5 698.9L629 694.9L629.6 690.9L630.2 687L630.7 683L631.3 679L631.8 675.1L632.4 671.1L632.9 667.1L633.5 663.2L634 659.2L634.6 655.2L635.1 651.3L635.7 647.3L636.2 643.3L636.8 639.4L637.3 635.4L637.8 631.4L638.4 627.5L638.9 623.5L639.4 619.6L640 615.6L640.5 611.6L641 607.7L641.5 603.7L642.1 599.7L642.6 595.8L643.1 591.8L643.6 587.8L644.2 583.9L644.7 579.9L645.2 576L645.7 572L646.2 568L646.8 564.1L647.3 560.1L647.8 556.1L648.3 552.2L648.8 548.2L649.4 544.3L649.9 540.3L650.4 536.3L650.9 532.4L651.4 528.4L652 524.5L652.5 520.5L653 516.5L653.5 512.6L654 508.6L654.6 504.7L655.1 500.7L655.6 496.8L656.1 492.8L656.7 488.8L657.2 484.9L657.7 480.9L658.3 477L658.8 473L659.3 469.1L659.9 465.1L660.4 461.1L661 457.2L661.6 453.2L662.2 449.3L662.9 445.3L663.6 441.4L664.4 437.5L665.3 433.5L666.3 429.6L667.4 425.7L668.6 421.8L670 417.9L671.4 414L673.1 410.1L674.9 406.2L676.9 402.4L679 398.5L681.4 394.7L684 391.4L686.8 389.3L689.9 389L693 390.2L695.9 392.4L698.4 395.2L700.4 398.3L702.1 401.8L703.5 405.6L704.6 409.7L705.5 413.9L706.2 418.3L706.7 422.8L707.2 427.3L707.6 431.8L708.1 436.3L708.6 440.6L709.1 444.7L709.7 448.8L710.3 452.8L711 456.7L711.8 460.5L712.5 464.2L713.3 467.9L714.1 471.6L715 475.3L715.8 479L716.6 482.8L717.5 486.5L718.3 490.3L719.1 494.1L719.9 498L720.8 501.8L721.6 505.7L722.4 509.6L723.2 513.6L724.1 517.5L724.9 521.4L725.7 525.4L726.5 529.3L727.3 533.3L728.1 537.3L728.9 541.3L729.7 545.2L730.5 549.2L731.3 553.2L732 557.1L732.8 561.1L733.6 565L734.3 569L735.1 572.9L735.9 576.9L736.6 580.8L737.4 584.8L738.1 588.7L738.9 592.6L739.7 596.6L740.4 600.5L741.2 604.4L741.9 608.3L742.7 612.3L743.5 616.2L744.2 620.1L745 624L745.8 627.9L746.6 631.8L747.3 635.7L748.1 639.6L748.9 643.5L749.7 647.4L750.5 651.3L751.4 655.2L752.2 659.1L753 663L753.8 666.9L754.7 670.8L755.5 674.7L756.4 678.6L757.3 682.4L758.2 686.3L759.1 690.2L760 694.1L760.9 697.9L761.8 701.8L762.8 705.7L763.7 709.5L764.7 713.4L765.7 717.3L766.7 721.1L767.7 725L768.7 728.8L769.7 732.7L770.8 736.5L771.9 740.4L772.9 744.2L774 748.1L775.1 751.9L776.2 755.8L777.3 759.6L778.5 763.5L779.6 767.3L780.7 771.1L781.9 775L783.1 778.8L784.2 782.7L785.4 786.5L786.6 790.3L787.8 794.1L789 798L790.2 801.8L791.4 805.6L792.6 809.4L793.9 813.3L795.1 817.1L796.3 820.9L797.6 824.7L798.8 828.5L800 832.3L801.3 836.1L802.6 839.9L803.8 843.8L805.1 847.6L806.3 851.4L807.6 855.2L808.8 859L810.1 862.8L811.4 866.6L812.6 870.4L813.9 874.2L815.2 877.9L816.4 881.7L817.7 885.5L818.9 889.3L820.2 893.1L821.5 896.9L822.7 900.7L824 904.4L825.4 908.2L826.7 911.9L828.1 915.7L829.4 919.4L830.9 923.1L832.3 926.8L833.8 930.5L835.4 934.1L836.9 937.8L838.6 941.4L840.3 945L842 948.6L843.8 952.2L845.7 955.7L847.6 959.2L849.6 962.7L851.6 966.2L853.8 969.6L856 973L858.3 976.4L860.7 979.7L863.2 983L865.8 986.3L868.4 989.5L871.2 992.6L874.1 995.5L877.1 998.3L880.1 1000.8L883.3 1003L886.6 1004.9L890 1006.5L893.5 1007.6L897.2 1008.2L900.9 1008.4L904.7 1008.1L908.6 1007.3L912.4 1006.1L916.2 1004.5L919.8 1002.6L923.3 1000.3L926.5 997.8L929.5 994.9L932.2 991.9L934.6 988.6L936.7 985.2L938.5 981.6L940.2 977.9L941.7 974.2L943.1 970.4L944.5 966.5L945.9 962.7L947.2 958.9L948.5 955.1L949.8 951.3L951.1 947.5L952.3 943.7L953.5 939.9L954.8 936.1L955.9 932.3L957.1 928.5L958.2 924.6L959.4 920.8L960.4 917L961.5 913.2L962.6 909.3L963.6 905.5L964.6 901.6L965.6 897.8L966.5 893.9L967.4 890.1L968.3 886.2L969.2 882.3L970.1 878.4L970.9 874.5L971.7 870.6L972.5 866.7L973.3 862.8L974.1 858.9L974.8 855L975.5 851L976.3 847.1L977 843.1L977.6 839.2L978.3 835.3L979 831.3L979.6 827.4L980.2 823.4L980.8 819.4L981.4 815.5L982 811.5L982.6 807.5L983.2 803.6L983.7 799.6L984.3 795.6L984.8 791.6L985.4 787.6L985.9 783.7L986.4 779.7L986.9 775.7L987.5 771.7L988 767.7L988.5 763.7L989 759.7L989.5 755.7L990 751.8L990.5 747.8L991 743.8L991.5 739.8L991.9 735.8L992.4 731.8L992.9 727.8L993.4 723.9L993.9 719.9L994.5 715.9L995 711.9L995.5 707.9L996 704L996.5 700L997.1 696L997.6 692.1L998.2 688.1L998.7 684.2L999.3 680.2L999.9 676.3L1000.4 672.3L1001 668.4L1001.6 664.4L1002.2 660.5L1002.9 656.6L1003.5 652.6L1004.1 648.7L1004.7 644.8L1005.4 640.8L1006 636.9L1006.6 633L1007.3 629.1L1007.9 625.2L1008.6 621.2L1009.2 617.3L1009.9 613.4L1010.5 609.5L1011.2 605.5L1011.8 601.6L1012.4 597.7L1013.1 593.8L1013.7 589.8L1014.3 585.9L1014.9 582L1015.6 578L1016.2 574.1L1016.8 570.2L1017.4 566.2L1018 562.3L1018.5 558.3L1019.1 554.4L1019.7 550.4L1020.2 546.4L1020.7 542.5L1021.3 538.5L1021.8 534.5L1022.3 530.5L1022.8 526.5L1023.2 522.5L1023.7 518.5L1024.1 514.5L1024.6 510.5L1025 506.4L1025.4 502.4L1025.7 498.4L1026.1 494.3L1026.4 490.2L1026.7 486.2L1027 482.1L1027.3 478L1027.6 473.9L1027.8 469.8L1028.1 465.7L1028.4 461.7L1028.7 457.6L1029.1 453.5L1029.5 449.5L1029.9 445.5L1030.4 441.5L1031 437.5L1031.7 433.5L1032.5 429.6L1033.4 425.8L1034.4 422L1035.5 418.2L1036.8 414.5L1038.1 410.8L1039.7 407.2L1041.4 403.6L1043.3 400.2L1045.3 396.7L1047.5 393.4L1050 390.1L1052.6 387.2L1055.3 385.4L1058.1 385.5L1060.9 387.1L1063.6 389.8L1066.1 392.9L1068.5 396.1L1070.7 399.4L1072.7 402.8L1074.6 406.3L1076.3 409.9L1077.9 413.5L1079.3 417.1L1080.7 420.9L1081.9 424.6L1083 428.5L1084 432.3L1085 436.3L1085.8 440.2L1086.6 444.2L1087.3 448.2L1088 452.2L1088.6 456.2L1089.2 460.3L1089.8 464.3L1090.4 468.4L1090.9 472.4L1091.5 476.5L1092 480.5L1092.6 484.5L1093.2 488.6L1093.7 492.6L1094.3 496.6L1094.9 500.6L1095.5 504.6L1096.1 508.6L1096.7 512.6L1097.3 516.6L1097.9 520.6L1098.5 524.5L1099.2 528.5L1099.8 532.5L1100.5 536.4L1101.1 540.4L1101.8 544.3L1102.5 548.3L1103.2 552.2L1103.9 556.2L1104.7 560.1L1105.4 564L1106.2 568L1106.9 571.9L1107.7 575.8L1108.5 579.7L1109.3 583.6L1110.1 587.5L1110.9 591.4L1111.7 595.3L1112.5 599.2L1113.4 603.1L1114.2 607L1115 610.9L1115.9 614.8L1116.8 618.7L1117.6 622.6L1118.5 626.5L1119.4 630.3L1120.3 634.2L1121.2 638.1L1122.1 642L1123 645.8L1123.9 649.7L1124.8 653.6L1125.7 657.4L1126.6 661.3L1127.5 665.2L1128.4 669L1129.4 672.9L1130.3 676.8L1131.2 680.6L1132.1 684.5L1133.1 688.3L1134 692.2L1134.9 696L1135.8 699.9L1136.8 703.7L1137.7 707.6L1138.6 711.4L1139.5 715.3L1140.5 719.2L1141.4 723L1142.3 726.9L1143.3 730.7L1144.2 734.6L1145.2 738.4L1146.1 742.3L1147.1 746.1L1148 750L1149 753.8L1150 757.7L1150.9 761.5L1151.9 765.4L1152.9 769.3L1153.9 773.1L1154.9 777L1155.9 780.9L1156.9 784.7L1158 788.6L1159 792.4L1160 796.3L1161.1 800.2L1162.2 804.1L1163.2 807.9L1164.3 811.8L1165.4 815.7L1166.5 819.6L1167.7 823.5L1168.8 827.3L1169.9 831.2L1171.1 835.1L1172.3 839L1173.4 842.9L1174.6 846.8L1175.9 850.7L1177.1 854.6L1178.3 858.5L1179.6 862.4L1180.9 866.4L1182.2 870.3L1183.5 874.2L1184.8 878.1L1186.1 882L1187.4 885.9L1188.8 889.8L1190.2 893.7L1191.6 897.6L1192.9 901.4L1194.3 905.3L1195.8 909.1L1197.2 912.9L1198.6 916.7L1200.1 920.4L1201.5 924.2L1203 927.9L1204.4 931.5L1205.9 935.2L1207.4 938.8L1208.9 942.4L1210.4 945.9L1211.9 949.4L1213.4 952.9L1214.9 956.3L1216.5 959.7L1218.1 963L1219.8 966.3L1221.5 969.6L1223.4 972.8L1225.3 975.9L1227.4 979L1229.7 982L1232 985L1234.6 987.9L1237.3 990.7L1240.2 993.5L1243.3 996.1L1246.6 998.6L1250.1 1000.9L1253.7 1002.9L1257.5 1004.6L1261.4 1006L1265.5 1007L1269.7 1007.5L1273.9 1007.5L1278 1007L1281.7 1005.9L1285.2 1004.2L1288.4 1002.1L1291.4 999.5L1294.1 996.6L1296.7 993.3L1299.1 989.9L1301.3 986.2L1303.4 982.5L1305.4 978.7L1307.4 974.9L1309.3 971.1L1311.1 967.4L1312.8 963.6L1314.5 959.9L1316.1 956.1L1317.7 952.4L1319.2 948.6L1320.6 944.9L1322 941.1L1323.3 937.4L1324.6 933.7L1325.9 929.9L1327 926.2L1328.2 922.4L1329.3 918.7L1330.3 914.9L1331.3 911.1L1332.3 907.3L1333.2 903.6L1334.1 899.7L1335 895.9L1335.8 892.1L1336.6 888.2L1337.4 884.4L1338.1 880.5L1338.9 876.6L1339.6 872.7L1340.2 868.7L1340.9 864.8L1341.5 860.8L1342.1 856.9L1342.7 852.9L1343.3 848.9L1343.9 844.9L1344.5 840.9L1345.1 836.9L1345.6 832.9L1346.2 828.9L1346.7 824.9L1347.3 820.9L1347.9 816.9L1348.4 812.9L1349 808.9L1349.6 804.9L1350.1 800.9L1350.7 796.9L1351.3 792.9L1351.9 789L1352.5 785L1353.1 781L1353.7 777.1L1354.3 773.1L1354.9 769.2L1355.5 765.2L1356.1 761.2L1356.7 757.3L1357.3 753.4L1357.9 749.4L1358.5 745.5L1359.1 741.5L1359.8 737.6L1360.4 733.6L1361 729.7L1361.6 725.8L1362.2 721.8L1362.8 717.9L1363.5 714L1364.1 710L1364.7 706.1L1365.3 702.2L1365.9 698.2L1366.5 694.3L1367.1 690.3L1367.7 686.4L1368.3 682.4L1368.9 678.5L1369.5 674.5L1370.1 670.6L1370.7 666.6L1371.3 662.7L1371.9 658.7L1372.5 654.8L1373 650.8L1373.6 646.8L1374.2 642.9L1374.8 638.9L1375.3 634.9L1375.9 630.9L1376.4 627L1377 623L1377.6 619L1378.1 615L1378.7 611L1379.2 607.1L1379.8 603.1L1380.3 599.1L1380.9 595.1L1381.4 591.1L1382 587.2L1382.5 583.2L1383.1 579.2L1383.6 575.2L1384.2 571.2L1384.7 567.3L1385.3 563.3L1385.8 559.3L1386.4 555.4L1386.9 551.4L1387.5 547.4L1388.1 543.5L1388.6 539.5L1389.2 535.6L1389.8 531.6L1390.3 527.7L1390.9 523.8L1391.5 519.8L1392.1 515.9L1392.7 512L1393.2 508L1393.8 504.1L1394.4 500.2L1395 496.3L1395.6 492.4L1396.3 488.4L1396.9 484.5L1397.5 480.6L1398.1 476.6L1398.8 472.7L1399.4 468.7L1400.1 464.8L1400.7 460.8L1401.4 456.8L1402 452.9L1402.7 448.9L1403.4 444.9L1404.2 440.9L1405 436.9L1405.9 433L1406.9 429L1407.9 425.1L1409 421.2L1410.3 417.3L1411.6 413.5L1413.1 409.7L1414.7 405.9L1416.5 402.2L1418.4 398.5L1420.5 394.9L1422.8 391.3L1425.2 388L1427.7 385.3L1430.2 383.5L1432.6 383.1L1434.8 384.3L1436.8 386.9L1438.7 390.6L1440.3 394.8L1441.8 399.3L1443.1 403.6L1444.2 407.9L1445.1 412.1L1446 416.1L1446.7 420.1L1447.4 424.1L1448.1 428L1448.7 431.8L1449.4 435.7L1450.1 439.6L1450.8 443.4L1451.6 447.3L1452.3 451.2L1453.1 455.1L1453.9 459L1454.7 462.8L1455.5 466.7L1456.4 470.6L1457.3 474.5L1458.1 478.4L1459 482.2L1459.9 486.1L1460.8 490L1461.7 493.9L1462.7 497.8L1463.6 501.7L1464.5 505.6L1465.5 509.5L1466.4 513.4L1467.3 517.3L1468.3 521.2L1469.2 525.1L1470.1 529L1471.1 532.9L1472 536.8L1472.9 540.7L1473.8 544.6L1474.7 548.5L1475.6 552.4L1476.4 556.3L1477.3 560.2L1478.2 564.1L1479 568.1L1479.8 572L1480.7 575.9L1481.5 579.8L1482.3 583.7L1483.1 587.6L1483.9 591.6L1484.7 595.5L1485.4 599.4L1486.2 603.3L1487 607.3L1487.8 611.2L1488.5 615.1L1489.3 619L1490.1 622.9L1490.8 626.9L1491.6 630.8L1492.3 634.7L1493.1 638.6L1493.8 642.6L1494.6 646.5L1495.4 650.4L1496.1 654.3L1496.9 658.3L1497.6 662.2L1498.4 666.1L1499.2 670L1500 673.9L1500.7 677.8L1501.5 681.8L1502.3 685.7L1503.1 689.6L1503.9 693.5L1504.7 697.4L1505.6 701.3L1506.4 705.2L1507.2 709.1L1508.1 713.1L1508.9 717L1509.8 720.9L1510.7 724.8L1511.6 728.7L1512.5 732.6L1513.4 736.4L1514.3 740.3L1515.3 744.2L1516.2 748.1L1517.2 752L1518.1 755.9L1519.1 759.8L1520.1 763.6L1521.1 767.5L1522.1 771.4L1523.2 775.3L1524.2 779.1L1525.3 783L1526.3 786.8L1527.4 790.7L1528.5 794.6L1529.6 798.4L1530.7 802.3L1531.8 806.1L1532.9 809.9L1534.1 813.8L1535.2 817.6L1536.4 821.4L1537.5 825.3L1538.7 829.1L1539.9 832.9L1541.1 836.7L1542.3 840.5L1543.6 844.3L1544.8 848.1L1546.1 851.9L1547.3 855.7L1548.6 859.5L1549.9 863.3L1551.2 867.1L1552.5 870.9L1553.8 874.6L1555.2 878.4L1556.5 882.2L1557.9 885.9L1559.2 889.7L1560.6 893.4L1562 897.2L1563.4 900.9L1564.8 904.6L1566.3 908.4L1567.7 912.1L1569.2 915.8L1570.6 919.5L1572.1 923.2L1573.6 926.9L1575.1 930.6L1576.7 934.3L1578.2 938L1579.8 941.7L1581.4 945.4L1583 949L1584.6 952.7L1586.2 956.4L1587.9 960L1589.5 963.7L1591.2 967.3L1593 971L1594.7 974.6L1596.5 978.3L1598.3 981.9L1600.1 985.5L1601.9 989.1L1603.9 992.6L1606.1 996L1608.6 999.1L1611.4 1001.9L1614.5 1004.4L1618 1006.5L1621.6 1008.1L1625.5 1009.1L1629.4 1009.6L1633.3 1009.6L1637.2 1009.1L1641.1 1008.1L1644.9 1006.7L1648.6 1005L1652 1002.9L1655.3 1000.5L1658.3 997.9L1661.1 995L1663.8 992L1666.3 988.8L1668.6 985.5L1670.8 982.2L1673 978.8L1675 975.3L1676.9 971.8L1678.7 968.2L1680.4 964.6L1682 961L1683.6 957.3L1685.1 953.6L1686.5 949.8L1687.8 946L1689.1 942.2L1690.4 938.4L1691.5 934.5L1692.7 930.6L1693.8 926.8L1694.9 922.9L1695.9 919L1697 915.1L1698 911.2L1699 907.3L1700 903.4L1700.9 899.5L1701.9 895.6L1702.8 891.7L1703.7 887.8L1704.6 883.9L1705.5 880L1706.4 876.1L1707.2 872.2L1708 868.3L1708.8 864.4L1709.6 860.5L1710.4 856.6L1711.2 852.7L1712 848.8L1712.7 844.9L1713.5 841L1714.2 837.1L1714.9 833.2L1715.6 829.2L1716.3 825.3L1717 821.4L1717.6 817.5L1718.3 813.6L1719 809.6L1719.6 805.7L1720.3 801.8L1720.9 797.9L1721.5 793.9L1722.1 790L1722.7 786.1L1723.3 782.1L1723.9 778.2L1724.5 774.3L1725.1 770.3L1725.7 766.4L1726.3 762.4L1726.9 758.5L1727.5 754.5L1728.1 750.6L1728.6 746.6L1729.2 742.7L1729.8 738.7L1730.4 734.8L1730.9 730.8L1731.5 726.8L1732.1 722.9L1732.6 718.9L1733.2 714.9L1733.8 711L1734.4 707L1735 703L1735.6 699.1L1736.1 695.1L1736.7 691.1L1737.3 687.1L1737.9 683.1L1738.5 679.1L1739.1 675.2L1739.7 671.2L1740.2 667.2L1740.8 663.2L1741.4 659.2L1742 655.2L1742.6 651.2L1743.2 647.2L1743.8 643.2L1744.3 639.3L1744.9 635.3L1745.5 631.3L1746.1 627.3L1746.6 623.3L1747.2 619.3L1747.8 615.3L1748.3 611.3L1748.9 607.3L1749.5 603.3L1750 599.4L1750.6 595.4L1751.1 591.4L1751.7 587.4L1752.2 583.4L1752.7 579.4L1753.3 575.4L1753.8 571.5L1754.3 567.5L1754.8 563.5L1755.3 559.5L1755.8 555.6L1756.3 551.6L1756.8 547.6L1757.3 543.7L1757.8 539.7L1758.2 535.7L1758.7 531.8L1759.2 527.8L1759.6 523.9L1760.1 519.9L1760.5 516L1760.9 512L1761.3 508.1L1761.8 504.2L1762.2 500.2L1762.6 496.3L1763 492.4L1763.4 488.4L1763.8 484.5L1764.2 480.6L1764.7 476.7L1765.1 472.8L1765.6 468.9L1766.2 465L1766.7 461.1L1767.3 457.2L1767.9 453.3L1768.6 449.4L1769.3 445.6L1770 441.7L1770.8 437.8L1771.7 434L1772.6 430.1L1773.6 426.3L1774.6 422.4L1775.7 418.6L1776.9 414.8L1778.1 410.9L1779.5 407.1L1780.9 403.3L1782.4 399.5L1784 395.7L1785.7 391.9L1787.5 388.1L1789.3 384.3L1791.3 380.6L1793.4 376.8" stroke="#cc0000" stroke-dasharray="47.85 14.15" stroke-dashoffset="-4.3"/></g><g fill="none" stroke-width="7.3" stroke="#cc0000" shape-rendering="crispEdges"><polygon points="312.3,392.6 349.4,392.6 330.9,425.5"/><polygon points="335.3,474.6 372.5,474.6 353.9,507.5"/><polygon points="358.4,546.6 395.5,546.6 377,579.5"/><polygon points="381.4,617.6 418.6,617.6 400,650.5"/><polygon points="381.4,701.6 418.6,701.6 400,734.5"/><polygon points="404.4,770.6 441.6,770.6 423.1,803.5"/><polygon points="427.5,848.6 464.7,848.6 446.1,881.5"/><polygon points="450.5,925.4 487.7,925.4 469.2,958.2"/><polygon points="496.6,987.6 533.8,987.6 515.3,1020.5"/><polygon points="542.7,975.6 579.9,975.6 561.3,1008.5"/><polygon points="565.8,899.6 602.9,899.6 584.4,932.5"/><polygon points="565.8,819.6 602.9,819.6 584.4,852.5"/><polygon points="588.8,739.6 626,739.6 607.4,772.5"/><polygon points="588.8,651.6 626,651.6 607.4,684.5"/><polygon points="611.9,566.4 649,566.4 630.5,599.2"/><polygon points="611.9,476.9 649,476.9 630.5,509.8"/><polygon points="634.9,407.2 672.1,407.2 653.5,440.1"/><polygon points="657.9,335 695.1,335 676.6,367.9"/><polygon points="704,399.6 741.2,399.6 722.7,432.5"/><polygon points="727.1,496.6 764.3,496.6 745.7,529.5"/><polygon points="727.1,580.5 764.3,580.5 745.7,613.4"/><polygon points="750.1,656.6 787.3,656.6 768.7,689.5"/><polygon points="773.2,731.9 810.3,731.9 791.8,764.8"/><polygon points="773.2,814.1 810.3,814.1 791.8,847"/><polygon points="819.3,899.1 856.4,899.1 837.9,932"/><polygon points="842.3,969.6 879.5,969.6 860.9,1002.5"/><polygon points="911.4,1003.1 948.6,1003.1 930.1,1036"/><polygon points="934.5,920.6 971.7,920.6 953.1,953.5"/><polygon points="934.5,834.6 971.7,834.6 953.1,867.5"/><polygon points="957.5,760.6 994.7,760.6 976.2,793.5"/><polygon points="957.5,671.6 994.7,671.6 976.2,704.5"/><polygon points="980.6,594.1 1017.8,594.1 999.2,627"/><polygon points="980.6,511.1 1017.8,511.1 999.2,544"/><polygon points="980.6,422.1 1017.8,422.1 999.2,455"/><polygon points="1003.6,349 1040.8,349 1022.2,381.9"/><polygon points="1049.7,342 1086.9,342 1068.3,374.9"/><polygon points="1072.8,429.1 1109.9,429.1 1091.4,462"/><polygon points="1095.8,519 1133,519 1114.4,551.9"/><polygon points="1118.8,602.9 1156,602.9 1137.5,635.8"/><polygon points="1118.8,682.1 1156,682.1 1137.5,715"/><polygon points="1141.9,762.6 1179.1,762.6 1160.5,795.5"/><polygon points="1164.9,848.6 1202.1,848.6 1183.6,881.5"/><polygon points="1188,922.1 1225.2,922.1 1206.6,955"/><polygon points="1234.1,988.1 1271.2,988.1 1252.7,1021"/><polygon points="1280.2,971.6 1317.3,971.6 1298.8,1004.5"/><polygon points="1303.2,893.6 1340.4,893.6 1321.8,926.5"/><polygon points="1303.2,813.6 1340.4,813.6 1321.8,846.5"/><polygon points="1326.2,736.1 1363.4,736.1 1344.9,769"/><polygon points="1326.2,644.2 1363.4,644.2 1344.9,677.1"/><polygon points="1349.3,562.1 1386.5,562.1 1367.9,595"/><polygon points="1349.3,473 1386.5,473 1367.9,505.9"/><polygon points="1372.3,399.6 1409.5,399.6 1391,432.5"/><polygon points="1395.4,313.1 1432.6,313.1 1414,346"/><polygon points="1441.5,393 1478.7,393 1460.1,425.9"/><polygon points="1441.5,475 1478.7,475 1460.1,507.9"/><polygon points="1464.5,547.1 1501.7,547.1 1483.1,580"/><polygon points="1487.6,632.6 1524.7,632.6 1506.2,665.5"/><polygon points="1510.6,716.6 1547.8,716.6 1529.2,749.5"/><polygon points="1510.6,795.6 1547.8,795.6 1529.2,828.5"/><polygon points="1533.7,873.4 1570.8,873.4 1552.3,906.2"/><polygon points="1579.7,948.6 1616.9,948.6 1598.4,981.5"/><polygon points="1625.8,1007.1 1663,1007.1 1644.5,1040"/></g><g fill="none" stroke-width="7.3" stroke="#00cc00" shape-rendering="crispEdges"><polygon points="303,411.8 335.5,394.1 335.5,429.9"/><polygon points="325.7,480.3 358.2,462.6 358.2,498.4"/><polygon points="348.5,538.7 381,521 381,556.8"/><polygon points="371.2,608.1 403.7,590.4 403.7,626.2"/><polygon points="371.2,677 403.7,659.3 403.7,695.1"/><polygon points="394,735.5 426.5,717.8 426.5,753.6"/><polygon points="416.8,804.3 449.3,786.6 449.3,822.4"/><polygon points="439.5,862.5 472,844.8 472,880.6"/><polygon points="462.3,917.9 494.8,900.2 494.8,936"/><polygon points="485,986.2 517.5,968.5 517.5,1004.3"/><polygon points="553.3,1000.3 585.8,982.6 585.8,1018.4"/><polygon points="576.1,938.4 608.6,920.7 608.6,956.5"/><polygon points="598.8,858.9 631.3,841.2 631.3,877"/><polygon points="598.8,783.3 631.3,765.6 631.3,801.4"/><polygon points="621.6,717.8 654.1,700.1 654.1,735.9"/><polygon points="621.6,645.5 654.1,627.8 654.1,663.6"/><polygon points="621.6,566.3 654.1,548.6 654.1,584.4"/><polygon points="644.4,500.8 676.9,483.1 676.9,518.9"/><polygon points="644.4,419.8 676.9,402.1 676.9,437.9"/><polygon points="667.1,390.3 699.6,372.6 699.6,408.4"/><polygon points="689.9,455.3 722.4,437.6 722.4,473.4"/><polygon points="712.6,522.3 745.1,504.6 745.1,540.4"/><polygon points="735.4,591.3 767.9,573.6 767.9,609.4"/><polygon points="758.2,659.8 790.7,642.1 790.7,677.9"/><polygon points="758.2,734.6 790.7,716.9 790.7,752.7"/><polygon points="780.9,815.3 813.4,797.6 813.4,833.4"/><polygon points="803.7,883.6 836.2,865.9 836.2,901.7"/><polygon points="849.2,928 881.7,910.3 881.7,946.1"/><polygon points="872,986.2 904.5,968.5 904.5,1004.3"/><polygon points="917.5,990.4 950,972.7 950,1008.5"/><polygon points="963,925.2 995.5,907.5 995.5,943.3"/><polygon points="963,858.9 995.5,841.2 995.5,877"/><polygon points="963,787.2 995.5,769.5 995.5,805.3"/><polygon points="985.8,714.7 1018.3,697 1018.3,732.8"/><polygon points="985.8,639 1018.3,621.3 1018.3,657.1"/><polygon points="985.8,569.6 1018.3,551.9 1018.3,587.7"/><polygon points="1008.5,508.9 1041,491.2 1041,527"/><polygon points="1008.5,441.4 1041,423.7 1041,459.5"/><polygon points="1031.3,382.7 1063.8,365 1063.8,400.8"/><polygon points="1054,412.2 1086.5,394.5 1086.5,430.3"/><polygon points="1076.8,483.6 1109.3,465.9 1109.3,501.7"/><polygon points="1099.6,538.7 1132,521 1132,556.8"/><polygon points="1099.6,603.9 1132,586.2 1132,622"/><polygon points="1122.3,676.7 1154.8,659 1154.8,694.8"/><polygon points="1145.1,749.5 1177.6,731.8 1177.6,767.6"/><polygon points="1167.8,835.3 1200.3,817.6 1200.3,853.4"/><polygon points="1190.6,904.1 1223.1,886.4 1223.1,922.2"/><polygon points="1213.4,966.5 1245.8,948.8 1245.8,984.6"/><polygon points="1258.9,1004.2 1291.4,986.5 1291.4,1022.3"/><polygon points="1304.4,966.5 1336.9,948.8 1336.9,984.6"/><polygon points="1327.2,911.2 1359.7,893.5 1359.7,929.3"/><polygon points="1349.9,820.9 1382.4,803.2 1382.4,839"/><polygon points="1349.9,745.9 1382.4,728.2 1382.4,764"/><polygon points="1349.9,666.6 1382.4,648.9 1382.4,684.7"/><polygon points="1372.7,594.4 1405.2,576.7 1405.2,612.5"/><polygon points="1372.7,522.4 1405.2,504.7 1405.2,540.5"/><polygon points="1372.7,440.9 1405.2,423.2 1405.2,459"/><polygon points="1395.4,368.7 1427.9,351 1427.9,386.8"/><polygon points="1418.2,405.2 1450.7,387.5 1450.7,423.3"/><polygon points="1441,481.1 1473.4,463.4 1473.4,499.2"/><polygon points="1463.7,535.9 1496.2,518.2 1496.2,554"/><polygon points="1486.5,611.8 1519,594.1 1519,629.9"/><polygon points="1486.5,680.3 1519,662.6 1519,698.4"/><polygon points="1509.2,752.1 1541.7,734.4 1541.7,770.2"/><polygon points="1532,835.3 1564.5,817.6 1564.5,853.4"/><polygon points="1554.8,897.1 1587.2,879.4 1587.2,915.2"/><polygon points="1600.3,962.3 1632.8,944.6 1632.8,980.4"/><polygon points="1645.8,1005 1678.3,987.3 1678.3,1023.1"/></g>
<g fill="none" stroke-width="8" shape-rendering="crispEdges"><line x1="880" y1="1174.8" x2="1125" y2="1174.8" stroke="#00ffff"/><line x1="880" y1="1239.6" x2="1125" y2="1239.6" stroke="#000" stroke-dasharray="32.5 11.5 7.5 10.7"/><line x1="880" y1="1304.4" x2="1125" y2="1304.4" stroke="#cc0000" stroke-dasharray="48 14.2"/></g><g fill="none" stroke-width="7.3" stroke-linejoin="miter" shape-rendering="crispEdges"><polygon points="982.6,1359 1019.7,1359 1001.2,1391.9" stroke="#cc0000"/><polygon points="981,1435.9 1013.5,1418.2 1013.5,1454" stroke="#00cc00"/></g><g font-family='"Liberation Serif", "DejaVu Serif", serif' font-size="54.3" font-weight="bold" fill="#000"><text x="1165.5" y="1191.4" textLength="404.4">present <tspan font-weight="normal">Δ</tspan><tspan font-style="italic">x</tspan>=0.01<tspan font-style="italic" font-weight="normal">L</tspan></text><text x="1165.5" y="1256.2" textLength="430.5">present <tspan font-weight="normal">Δ</tspan><tspan font-style="italic">x</tspan>=0.005<tspan font-style="italic" font-weight="normal">L</tspan></text><text x="1165.5" y="1321" textLength="457">present <tspan font-weight="normal">Δ</tspan><tspan font-style="italic">x</tspan>=0.0025<tspan font-style="italic" font-weight="normal">L</tspan></text><text x="1163.5" y="1385.8" textLength="520.9">de Tullio and Pascazio</text><text x="1165.5" y="1450.6" textLength="309">Lee and Choi</text></g>
<g stroke="#000" shape-rendering="crispEdges"><line x1="315.5" y1="1441.2" x2="335" y2="1441.2" stroke-width="1.5"/><line x1="315.5" y1="1404.9" x2="335" y2="1404.9" stroke-width="1.5"/><line x1="315.5" y1="1368.7" x2="335" y2="1368.7" stroke-width="1.5"/><line x1="315.5" y1="1296.2" x2="335" y2="1296.2" stroke-width="1.5"/><line x1="315.5" y1="1259.9" x2="335" y2="1259.9" stroke-width="1.5"/><line x1="315.5" y1="1223.7" x2="335" y2="1223.7" stroke-width="1.5"/><line x1="315.5" y1="1151.2" x2="335" y2="1151.2" stroke-width="1.5"/><line x1="315.5" y1="1114.9" x2="335" y2="1114.9" stroke-width="1.5"/><line x1="315.5" y1="1078.7" x2="335" y2="1078.7" stroke-width="1.5"/><line x1="315.5" y1="1006.1" x2="335" y2="1006.1" stroke-width="1.5"/><line x1="315.5" y1="969.9" x2="335" y2="969.9" stroke-width="1.5"/><line x1="315.5" y1="933.7" x2="335" y2="933.7" stroke-width="1.5"/><line x1="315.5" y1="861.1" x2="335" y2="861.1" stroke-width="1.5"/><line x1="315.5" y1="824.9" x2="335" y2="824.9" stroke-width="1.5"/><line x1="315.5" y1="788.7" x2="335" y2="788.7" stroke-width="1.5"/><line x1="315.5" y1="716.1" x2="335" y2="716.1" stroke-width="1.5"/><line x1="315.5" y1="679.9" x2="335" y2="679.9" stroke-width="1.5"/><line x1="315.5" y1="643.6" x2="335" y2="643.6" stroke-width="1.5"/><line x1="315.5" y1="571.2" x2="335" y2="571.2" stroke-width="1.5"/><line x1="315.5" y1="534.9" x2="335" y2="534.9" stroke-width="1.5"/><line x1="315.5" y1="498.6" x2="335" y2="498.6" stroke-width="1.5"/><line x1="315.5" y1="426.1" x2="335" y2="426.1" stroke-width="1.5"/><line x1="315.5" y1="389.9" x2="335" y2="389.9" stroke-width="1.5"/><line x1="315.5" y1="353.6" x2="335" y2="353.6" stroke-width="1.5"/><line x1="315.5" y1="281.1" x2="335" y2="281.1" stroke-width="1.5"/><line x1="315.5" y1="244.9" x2="335" y2="244.9" stroke-width="1.5"/><line x1="315.5" y1="208.7" x2="335" y2="208.7" stroke-width="1.5"/><line x1="315.5" y1="1477.4" x2="347.5" y2="1477.4" stroke-width="7.4"/><line x1="315.5" y1="1332.4" x2="347.5" y2="1332.4" stroke-width="7.4"/><line x1="315.5" y1="1187.4" x2="347.5" y2="1187.4" stroke-width="7.4"/><line x1="315.5" y1="1042.4" x2="347.5" y2="1042.4" stroke-width="7.4"/><line x1="315.5" y1="897.4" x2="347.5" y2="897.4" stroke-width="7.4"/><line x1="315.5" y1="752.4" x2="347.5" y2="752.4" stroke-width="7.4"/><line x1="315.5" y1="607.4" x2="347.5" y2="607.4" stroke-width="7.4"/><line x1="315.5" y1="462.4" x2="347.5" y2="462.4" stroke-width="7.4"/><line x1="315.5" y1="317.4" x2="347.5" y2="317.4" stroke-width="7.4"/><line x1="389.9" y1="1514" x2="389.9" y2="1495.5" stroke-width="1.5"/><line x1="463.5" y1="1514" x2="463.5" y2="1495.5" stroke-width="1.5"/><line x1="537.2" y1="1514" x2="537.2" y2="1495.5" stroke-width="1.5"/><line x1="610.9" y1="1514" x2="610.9" y2="1495.5" stroke-width="1.5"/><line x1="684.5" y1="1514" x2="684.5" y2="1482" stroke-width="7.4"/><line x1="758.2" y1="1514" x2="758.2" y2="1495.5" stroke-width="1.5"/><line x1="831.9" y1="1514" x2="831.9" y2="1495.5" stroke-width="1.5"/><line x1="905.6" y1="1514" x2="905.6" y2="1495.5" stroke-width="1.5"/><line x1="979.2" y1="1514" x2="979.2" y2="1495.5" stroke-width="1.5"/><line x1="1052.9" y1="1514" x2="1052.9" y2="1482" stroke-width="7.4"/><line x1="1126.6" y1="1514" x2="1126.6" y2="1495.5" stroke-width="1.5"/><line x1="1200.2" y1="1514" x2="1200.2" y2="1495.5" stroke-width="1.5"/><line x1="1273.9" y1="1514" x2="1273.9" y2="1495.5" stroke-width="1.5"/><line x1="1347.6" y1="1514" x2="1347.6" y2="1495.5" stroke-width="1.5"/><line x1="1421.2" y1="1514" x2="1421.2" y2="1482" stroke-width="7.4"/><line x1="1494.9" y1="1514" x2="1494.9" y2="1495.5" stroke-width="1.5"/><line x1="1568.6" y1="1514" x2="1568.6" y2="1495.5" stroke-width="1.5"/><line x1="1642.3" y1="1514" x2="1642.3" y2="1495.5" stroke-width="1.5"/><line x1="1715.9" y1="1514" x2="1715.9" y2="1495.5" stroke-width="1.5"/><rect x="315.5" y="172.5" width="1474.5" height="1341.5" fill="none" stroke-width="7.4"/></g><g font-family='"Liberation Serif", "DejaVu Serif", serif' font-size="76" fill="#000"><text x="299.6" y="343.4" text-anchor="end">1.2</text><text x="297" y="633.4" text-anchor="end">0.8</text><text x="297" y="923.4" text-anchor="end">0.4</text><text x="297" y="1213.4" text-anchor="end">0</text><text x="297" y="1503.4" text-anchor="end">-0.4</text><text x="316.2" y="1580" text-anchor="middle">0</text><text x="684.5" y="1580" text-anchor="middle">0.5</text><text x="1052.9" y="1580" text-anchor="middle">1</text><text x="1421.3" y="1580" text-anchor="middle">1.5</text><text x="1789.6" y="1580" text-anchor="middle">2</text></g>
</g>
<g id="panel-b">
<clipPath id="cb"><rect x="315.5" y="1863.5" width="1474.5" height="1341"/></clipPath><g clip-path="url(#cb)" fill="none" stroke-width="8.2" stroke-linejoin="round" shape-rendering="crispEdges"><path d="M312.1 2685.9L314.3 2688.4L317.4 2691.3L320.9 2694.2L324.6 2696.8L328.3 2698.9L331.8 2700L334.8 2699.8L337.2 2698.4L339.3 2696L341 2692.7L342.5 2688.9L343.8 2684.8L345.2 2680.5L346.6 2676.3L348 2672.2L349.6 2668.2L351.2 2664.3L352.9 2660.5L354.6 2656.8L356.4 2653.2L358.3 2649.6L360.2 2646.1L362.2 2642.7L364.1 2639.3L366.2 2635.9L368.2 2632.6L370.3 2629.3L372.5 2626.1L374.6 2622.8L376.8 2619.6L378.9 2616.4L381.1 2613.2L383.3 2609.9L385.5 2606.7L387.7 2603.4L389.9 2600.1L392.1 2596.7L394.2 2593.4L396.4 2590L398.5 2586.6L400.6 2583.1L402.7 2579.7L404.8 2576.2L406.9 2572.7L409 2569.2L411 2565.7L413 2562.2L415 2558.7L416.9 2555.2L418.8 2551.6L420.7 2548.1L422.6 2544.6L424.5 2541.1L426.4 2537.6L428.3 2534.2L430.2 2530.7L432.2 2527.3L434.2 2523.8L436.2 2520.4L438.2 2517L440.2 2513.6L442.3 2510.3L444.4 2506.9L446.4 2503.5L448.5 2500.1L450.5 2496.7L452.6 2493.3L454.6 2489.9L456.6 2486.5L458.6 2483L460.5 2479.5L462.4 2476L464.3 2472.5L466.2 2468.9L467.9 2465.3L469.7 2461.6L471.4 2457.9L473 2454.2L474.6 2450.4L476.1 2446.6L477.7 2442.8L479.2 2439L480.7 2435.2L482.3 2431.4L483.9 2427.7L485.6 2424L487.3 2420.3L489 2416.7L490.9 2413.2L492.9 2409.7L495 2406.4L497.2 2403.1L499.5 2400L502 2396.9L504.5 2394L507.2 2391.1L510 2388.3L512.8 2385.5L515.7 2382.7L518.6 2380L521.5 2377.3L524.4 2374.6L527.4 2371.8L530.3 2369L533.2 2366.2L536 2363.3L538.8 2360.4L541.4 2357.3L544 2354.1L546.5 2350.9L548.8 2347.5L551.1 2344L553.2 2340.4L555.2 2336.7L557.1 2332.9L558.9 2329.2L560.5 2325.3L562.1 2321.5L563.6 2317.6L565 2313.7L566.3 2309.9L567.5 2306.1L568.6 2302.4L569.6 2298.7L570.6 2295L571.6 2291.5L572.5 2288L573.6 2284.5L574.7 2281.1L576 2277.7L577.5 2274.4L579.2 2271.1L581.2 2267.8L583.4 2264.5L585.9 2261.3L588.5 2258.1L591.3 2254.8L594.1 2251.6L597 2248.4L599.9 2245.1L602.8 2241.8L605.6 2238.5L608.2 2235.2L610.7 2231.9L613 2228.5L615 2225L616.8 2221.6L618.5 2218.1L620 2214.5L621.4 2211L622.7 2207.4L624.1 2203.8L625.5 2200.2L627 2196.6L628.5 2193.1L630 2189.4L631.6 2185.8L633.2 2182.2L634.8 2178.6L636.5 2175L638.2 2171.4L640 2167.8L641.7 2164.1L643.5 2160.5L645.3 2156.9L647 2153.2L648.8 2149.6L650.6 2146L652.4 2142.3L654.2 2138.7L656 2135.1L657.7 2131.4L659.5 2127.8L661.2 2124.1L662.9 2120.5L664.6 2116.9L666.3 2113.2L668.1 2109.6L669.9 2105.9L671.8 2102.3L673.8 2098.6L676 2095L678.4 2091.6L680.9 2088.3L683.7 2085.5L686.7 2083.1L689.9 2081.7L693.4 2082.3L696.9 2084.7L700.1 2087.9L703 2091.5L705.5 2095.3L707.8 2098.9L709.9 2102.2L711.9 2105.3L713.8 2108.3L715.6 2111.3L717.4 2114.3L719.3 2117.5L721.3 2120.8L723.3 2124.3L725.3 2127.9L727.3 2131.6L729.2 2135.3L731.1 2139.1L732.9 2142.9L734.6 2146.6L736.2 2150.2L737.7 2153.9L739.2 2157.4L740.6 2161L742.1 2164.5L743.7 2168L745.3 2171.5L747.1 2175L749 2178.4L751 2181.8L753.3 2185.2L755.7 2188.6L758.3 2192L761 2195.4L763.7 2198.8L766.3 2202.1L768.9 2205.5L771.4 2208.9L773.6 2212.3L775.8 2215.7L777.8 2219.1L779.8 2222.5L781.6 2225.9L783.3 2229.3L785 2232.7L786.6 2236.1L788.1 2239.6L789.6 2243L791.1 2246.4L792.6 2249.9L794.1 2253.3L795.7 2256.8L797.2 2260.3L798.9 2263.8L800.5 2267.2L802.3 2270.7L804.2 2274.2L806.1 2277.7L808.2 2281.2L810.3 2284.7L812.6 2288.3L814.9 2291.8L817.2 2295.3L819.6 2298.9L822 2302.4L824.4 2306L826.7 2309.6L829 2313.1L831.3 2316.7L833.5 2320.3L835.5 2323.9L837.5 2327.5L839.4 2331.1L841.2 2334.7L843 2338.3L844.7 2341.9L846.3 2345.6L847.9 2349.2L849.4 2352.8L850.9 2356.4L852.4 2360L853.9 2363.6L855.3 2367.2L856.8 2370.8L858.3 2374.4L859.8 2377.9L861.3 2381.5L862.9 2385L864.5 2388.6L866.1 2392.1L867.9 2395.6L869.7 2399L871.5 2402.5L873.5 2405.9L875.6 2409.3L877.7 2412.7L880 2416.1L882.3 2419.4L884.6 2422.7L887.1 2426L889.6 2429.2L892.1 2432.4L894.6 2435.6L897.2 2438.8L899.8 2441.9L902.4 2445L905 2448L907.6 2451.1L910.2 2454.1L912.8 2457.1L915.4 2460.1L917.9 2463.1L920.5 2466.2L923 2469.2L925.5 2472.3L927.9 2475.3L930.3 2478.5L932.7 2481.6L935 2484.8L937.3 2488L939.6 2491.3L941.7 2494.6L943.9 2498L946 2501.4L948.1 2504.8L950.1 2508.2L952.1 2511.7L954.2 2515.2L956.1 2518.7L958.1 2522.2L960.1 2525.7L962.1 2529.2L964.1 2532.7L966.1 2536.2L968.1 2539.7L970.1 2543.2L972.1 2546.7L974.1 2550.2L976.1 2553.7L978.1 2557.2L980.1 2560.7L982.1 2564.2L984.1 2567.7L986.1 2571.2L988 2574.8L990 2578.3L991.9 2581.8L993.9 2585.3L995.8 2588.8L997.6 2592.4L999.5 2595.9L1001.3 2599.5L1003.2 2603L1004.9 2606.6L1006.7 2610.2L1008.4 2613.8L1010.1 2617.4L1011.8 2621L1013.4 2624.6L1015 2628.2L1016.6 2631.9L1018.1 2635.6L1019.6 2639.2L1021 2642.9L1022.4 2646.6L1023.8 2650.4L1025.3 2654.1L1026.7 2657.8L1028.1 2661.5L1029.6 2665.2L1031.1 2668.8L1032.7 2672.5L1034.3 2676.1L1036 2679.7L1037.8 2683.3L1039.7 2686.9L1041.7 2690.4L1043.9 2693.9L1046.2 2697.3L1048.7 2700.7L1051.4 2704L1054.4 2707.3L1057.6 2710.2L1060.9 2712.8L1064.3 2714.8L1067.7 2716L1071.1 2716.3L1074.4 2715.6L1077.5 2713.8L1080.5 2711.3L1083.1 2708.5L1085.6 2705.3L1087.8 2702L1089.8 2698.4L1091.7 2694.7L1093.4 2690.8L1095 2686.9L1096.4 2683L1097.8 2679L1099.2 2675.1L1100.5 2671.3L1101.8 2667.6L1103.1 2664L1104.4 2660.4L1105.8 2656.8L1107.2 2653.3L1108.8 2649.8L1110.5 2646.3L1112.3 2642.7L1114.2 2639.2L1116.2 2635.7L1118.3 2632.2L1120.4 2628.6L1122.6 2625.1L1124.8 2621.6L1127.1 2618.1L1129.3 2614.5L1131.5 2611L1133.7 2607.5L1135.9 2604L1138 2600.5L1140 2597L1142 2593.5L1143.8 2590L1145.5 2586.6L1147.2 2583.1L1148.7 2579.7L1150.2 2576.2L1151.7 2572.8L1153.1 2569.3L1154.6 2565.9L1156.1 2562.4L1157.7 2559L1159.3 2555.6L1161 2552.1L1162.9 2548.7L1164.9 2545.3L1166.9 2541.8L1169.1 2538.4L1171.3 2534.9L1173.5 2531.4L1175.8 2528L1178 2524.5L1180.3 2521L1182.5 2517.5L1184.7 2514L1186.9 2510.5L1189.1 2507L1191.3 2503.4L1193.4 2499.9L1195.5 2496.4L1197.6 2492.8L1199.7 2489.3L1201.7 2485.7L1203.6 2482.2L1205.6 2478.6L1207.4 2475L1209.3 2471.5L1211 2467.9L1212.8 2464.3L1214.4 2460.7L1216 2457.1L1217.5 2453.5L1219 2449.9L1220.4 2446.3L1221.7 2442.7L1223 2439.1L1224.3 2435.4L1225.5 2431.8L1226.8 2428.2L1228 2424.6L1229.3 2420.9L1230.6 2417.3L1232 2413.6L1233.4 2410L1234.8 2406.4L1236.4 2402.7L1238 2399.1L1239.6 2395.5L1241.3 2391.8L1243.1 2388.2L1244.9 2384.6L1246.8 2381L1248.7 2377.4L1250.7 2373.9L1252.7 2370.3L1254.8 2366.8L1256.9 2363.3L1259.1 2359.9L1261.3 2356.4L1263.6 2353L1265.9 2349.6L1268.3 2346.3L1270.7 2343L1273.1 2339.7L1275.6 2336.4L1278.2 2333.2L1280.7 2330.1L1283.3 2327L1286 2323.9L1288.7 2320.9L1291.4 2318L1294.1 2315.1L1296.9 2312.2L1299.7 2309.4L1302.4 2306.5L1305.2 2303.7L1307.9 2300.9L1310.5 2298L1313.1 2295.1L1315.6 2292.1L1318.1 2289.1L1320.4 2285.9L1322.6 2282.7L1324.6 2279.4L1326.6 2275.9L1328.3 2272.4L1330 2268.7L1331.6 2265L1333.1 2261.2L1334.6 2257.3L1336.1 2253.5L1337.5 2249.6L1339 2245.8L1340.5 2241.9L1342.1 2238.2L1343.7 2234.5L1345.5 2230.8L1347.3 2227.3L1349.3 2223.9L1351.5 2220.6L1353.8 2217.5L1356.3 2214.5L1358.9 2211.6L1361.6 2208.7L1364.4 2205.9L1367.1 2203.1L1369.9 2200.3L1372.6 2197.4L1375.2 2194.4L1377.7 2191.3L1380 2188.1L1382.2 2184.7L1384.1 2181.1L1385.8 2177.4L1387.4 2173.5L1388.9 2169.5L1390.2 2165.5L1391.4 2161.5L1392.6 2157.5L1393.8 2153.5L1395 2149.7L1396.1 2145.9L1397.3 2142.3L1398.6 2138.7L1399.8 2135.2L1401.2 2131.7L1402.5 2128.3L1404 2124.8L1405.5 2121.4L1407.1 2118L1408.8 2114.5L1410.6 2111L1412.5 2107.4L1414.5 2103.8L1416.6 2100L1418.9 2096.2L1421.3 2092.3L1423.8 2088.6L1426.5 2085.2L1429.4 2082.7L1432.4 2082.6L1435.5 2085L1438.6 2088.2L1441.7 2091.2L1444.8 2094.1L1447.8 2097L1450.6 2099.9L1453.4 2102.9L1456.1 2105.9L1458.6 2109L1461.1 2112.1L1463.5 2115.2L1465.7 2118.4L1468 2121.6L1470.1 2124.8L1472.2 2128.1L1474.3 2131.4L1476.3 2134.7L1478.3 2138.1L1480.2 2141.5L1482.1 2144.8L1484 2148.3L1485.9 2151.7L1487.8 2155.1L1489.7 2158.6L1491.6 2162L1493.5 2165.5L1495.5 2169L1497.5 2172.4L1499.5 2175.9L1501.5 2179.4L1503.5 2182.8L1505.6 2186.3L1507.6 2189.8L1509.7 2193.3L1511.8 2196.8L1513.9 2200.3L1516 2203.8L1518.1 2207.3L1520.2 2210.8L1522.3 2214.3L1524.4 2217.8L1526.5 2221.3L1528.6 2224.8L1530.7 2228.3L1532.8 2231.8L1534.8 2235.3L1536.8 2238.9L1538.8 2242.4L1540.8 2245.9L1542.8 2249.4L1544.8 2253L1546.7 2256.5L1548.6 2260L1550.5 2263.6L1552.4 2267.1L1554.2 2270.7L1556.1 2274.2L1557.9 2277.8L1559.7 2281.3L1561.5 2284.9L1563.3 2288.4L1565.1 2292L1566.8 2295.5L1568.6 2299.1L1570.3 2302.7L1572.1 2306.2L1573.8 2309.8L1575.5 2313.4L1577.2 2316.9L1578.9 2320.5L1580.6 2324.1L1582.3 2327.7L1584 2331.2L1585.7 2334.8L1587.4 2338.4L1589 2342L1590.7 2345.6L1592.4 2349.2L1594 2352.8L1595.7 2356.3L1597.4 2359.9L1599.1 2363.5L1600.7 2367.1L1602.4 2370.7L1604.1 2374.3L1605.8 2377.9L1607.4 2381.5L1609.1 2385.2L1610.8 2388.8L1612.5 2392.4L1614.2 2396L1615.9 2399.6L1617.7 2403.2L1619.4 2406.8L1621.2 2410.4L1622.9 2414L1624.7 2417.6L1626.5 2421.2L1628.3 2424.8L1630.2 2428.4L1632 2431.9L1633.9 2435.5L1635.8 2439L1637.7 2442.5L1639.7 2446.1L1641.7 2449.5L1643.7 2453L1645.7 2456.5L1647.8 2459.9L1649.9 2463.3L1652.1 2466.7L1654.2 2470.1L1656.5 2473.5L1658.7 2476.8L1661 2480.1L1663.4 2483.4L1665.8 2486.6L1668.2 2489.9L1670.7 2493.1L1673.2 2496.2L1675.8 2499.3L1678.4 2502.4L1681 2505.5L1683.7 2508.6L1686.4 2511.6L1689 2514.7L1691.6 2517.7L1694.2 2520.8L1696.7 2523.9L1699 2527.1L1701.3 2530.3L1703.4 2533.6L1705.4 2537L1707.2 2540.4L1708.8 2544L1710.2 2547.6L1711.5 2551.3L1712.8 2555.1L1713.9 2558.8L1715.2 2562.6L1716.4 2566.4L1717.8 2570.2L1719.3 2573.9L1721 2577.5L1722.7 2581.2L1724.5 2584.8L1726.5 2588.3L1728.4 2591.9L1730.5 2595.4L1732.6 2598.9L1734.8 2602.4L1736.9 2605.9L1739.2 2609.3L1741.4 2612.8L1743.6 2616.2L1745.9 2619.6L1748.1 2623L1750.3 2626.4L1752.5 2629.8L1754.6 2633.3L1756.7 2636.7L1758.7 2640.1L1760.7 2643.5L1762.6 2646.9L1764.4 2650.3L1766.2 2653.8L1767.9 2657.3L1769.5 2660.7L1771.2 2664.2L1772.7 2667.7L1774.3 2671.3L1775.8 2674.9L1777.3 2678.5L1778.8 2682.1L1780.3 2685.7L1781.8 2689.4L1783.3 2693.2L1784.8 2696.9L1786.3 2700.7L1787.8 2704.6L1789.3 2708.5L1790.9 2712.4L1792.5 2716.4L1794.1 2720.5" stroke="#00ffff"/><path d="M312 2734L315.4 2731.9L318.7 2729.6L321.9 2727.3L325 2724.8L328.1 2722.2L331 2719.5L333.8 2716.7L336.5 2713.8L339.1 2710.9L341.6 2707.8L344 2704.7L346.3 2701.5L348.5 2698.2L350.7 2694.9L352.7 2691.5L354.6 2688L356.5 2684.5L358.3 2681L360 2677.4L361.6 2673.7L363.2 2670.1L364.8 2666.4L366.3 2662.7L367.9 2659L369.3 2655.2L370.8 2651.5L372.3 2647.8L373.8 2644L375.3 2640.3L376.8 2636.6L378.3 2632.9L379.9 2629.2L381.6 2625.5L383.2 2621.9L385 2618.3L386.8 2614.8L388.6 2611.2L390.5 2607.8L392.4 2604.3L394.4 2600.9L396.5 2597.5L398.5 2594.1L400.6 2590.7L402.7 2587.3L404.9 2584L407.1 2580.7L409.2 2577.3L411.4 2574L413.6 2570.7L415.9 2567.4L418.1 2564.1L420.3 2560.8L422.5 2557.4L424.7 2554.1L426.9 2550.8L429.1 2547.4L431.2 2544L433.4 2540.6L435.5 2537.2L437.5 2533.8L439.6 2530.3L441.6 2526.8L443.6 2523.3L445.5 2519.8L447.4 2516.2L449.3 2512.6L451.1 2509L452.9 2505.4L454.7 2501.8L456.5 2498.1L458.2 2494.4L459.9 2490.8L461.6 2487.1L463.3 2483.3L465 2479.6L466.6 2475.9L468.2 2472.2L469.8 2468.4L471.5 2464.7L473 2460.9L474.6 2457.2L476.2 2453.4L477.8 2449.7L479.4 2445.9L480.9 2442.2L482.5 2438.5L484 2434.7L485.6 2431L487.2 2427.3L488.8 2423.6L490.3 2419.9L491.9 2416.3L493.5 2412.6L495.1 2408.9L496.7 2405.3L498.4 2401.7L500 2398.1L501.7 2394.6L503.4 2391L505.1 2387.5L506.8 2384L508.5 2380.5L510.3 2377.1L512.1 2373.7L513.9 2370.3L515.7 2367L517.6 2363.6L519.6 2360.3L521.5 2357.1L523.6 2353.8L525.7 2350.6L527.9 2347.3L530.2 2344.1L532.6 2340.9L535.1 2337.7L537.6 2334.5L540.2 2331.3L542.9 2328.1L545.6 2324.9L548.3 2321.7L551.1 2318.5L553.8 2315.3L556.5 2312L559.2 2308.7L561.8 2305.5L564.4 2302.1L566.9 2298.8L569.3 2295.4L571.6 2292L573.8 2288.6L575.9 2285.1L577.8 2281.6L579.6 2278.1L581.1 2274.5L582.5 2270.8L583.7 2267.2L584.8 2263.4L585.7 2259.7L586.5 2255.9L587.2 2252L587.9 2248.2L588.6 2244.4L589.4 2240.6L590.2 2236.8L591.2 2233.1L592.4 2229.4L593.7 2225.7L595.3 2222.1L597.1 2218.6L599 2215L601.2 2211.6L603.4 2208.2L605.8 2204.8L608.2 2201.4L610.7 2198L613.2 2194.7L615.7 2191.4L618.2 2188.1L620.6 2184.8L622.9 2181.5L625.2 2178.2L627.3 2174.9L629.3 2171.6L631.1 2168.3L632.8 2164.9L634.3 2161.5L635.8 2158.1L637.1 2154.6L638.4 2151.1L639.6 2147.6L640.8 2144L641.9 2140.3L643 2136.6L644.1 2132.8L645.3 2129L646.5 2125.1L647.7 2121.1L649 2117L650.3 2112.9L651.7 2108.8L653.2 2104.8L654.8 2100.7L656.5 2096.7L658.3 2092.7L660.2 2088.8L662.2 2085L664.3 2081.3L666.6 2077.8L669 2074.4L671.6 2071.2L674.3 2068.2L677.2 2065.4L680.2 2062.8L683.2 2060.7L686.3 2059L689.3 2057.9L692.2 2057.4L695.1 2057.5L697.9 2058.1L700.6 2059.2L703.2 2060.8L705.8 2062.9L708.3 2065.4L710.6 2068.4L712.9 2071.8L715.1 2075.4L717.2 2079.3L719.2 2083.3L721 2087.3L722.8 2091.3L724.5 2095.2L726.1 2099.2L727.6 2103.1L729 2107L730.4 2110.9L731.8 2114.8L733.1 2118.6L734.4 2122.4L735.6 2126.2L736.9 2130L738.2 2133.8L739.4 2137.5L740.7 2141.3L742.1 2145L743.4 2148.7L744.9 2152.4L746.3 2156L747.9 2159.7L749.4 2163.3L751.1 2166.9L752.7 2170.5L754.4 2174.1L756.1 2177.7L757.9 2181.2L759.7 2184.8L761.5 2188.3L763.4 2191.8L765.2 2195.3L767.2 2198.8L769.1 2202.3L771 2205.7L773 2209.2L775 2212.6L777 2216L779 2219.4L781.1 2222.9L783.1 2226.3L785.2 2229.7L787.2 2233L789.3 2236.4L791.4 2239.8L793.5 2243.2L795.6 2246.6L797.7 2250L799.7 2253.3L801.8 2256.7L803.9 2260.1L806 2263.5L808.1 2266.9L810.2 2270.3L812.2 2273.7L814.3 2277.2L816.3 2280.6L818.3 2284L820.4 2287.5L822.4 2291L824.3 2294.5L826.3 2298L828.3 2301.5L830.2 2305L832.1 2308.6L834 2312.1L835.8 2315.7L837.6 2319.3L839.4 2323L841.2 2326.6L842.9 2330.3L844.6 2334L846.3 2337.8L847.9 2341.5L849.6 2345.3L851.2 2349L852.7 2352.8L854.3 2356.6L855.8 2360.4L857.3 2364.2L858.7 2368L860.2 2371.8L861.6 2375.6L863 2379.4L864.4 2383.2L865.8 2387L867.1 2390.8L868.5 2394.5L869.8 2398.3L871.1 2402L872.4 2405.7L873.6 2409.4L874.9 2413.1L876.1 2416.7L877.4 2420.3L878.6 2423.9L879.9 2427.4L881.2 2431L882.5 2434.4L884 2437.9L885.6 2441.3L887.3 2444.6L889.1 2447.9L891.2 2451.2L893.5 2454.4L896 2457.6L898.7 2460.7L901.5 2463.8L904.5 2466.8L907.5 2469.8L910.6 2472.8L913.7 2475.8L916.7 2478.8L919.7 2481.7L922.6 2484.7L925.3 2487.7L927.9 2490.6L930.4 2493.6L932.7 2496.7L935 2499.7L937.1 2502.8L939.2 2505.9L941.2 2509.1L943.1 2512.3L945 2515.6L946.9 2518.9L948.7 2522.3L950.5 2525.8L952.4 2529.4L954.2 2533L956.1 2536.8L958 2540.6L960 2544.5L961.9 2548.5L963.9 2552.5L965.8 2556.5L967.7 2560.4L969.5 2564.3L971.3 2568.1L973 2571.9L974.7 2575.6L976.4 2579.3L977.9 2583L979.5 2586.6L981 2590.2L982.5 2593.8L984 2597.4L985.5 2600.9L986.9 2604.4L988.3 2607.9L989.7 2611.4L991.1 2614.8L992.5 2618.3L993.9 2621.8L995.3 2625.2L996.7 2628.7L998.1 2632.1L999.4 2635.6L1000.9 2639.1L1002.3 2642.6L1003.7 2646.1L1005.2 2649.6L1006.7 2653.2L1008.2 2656.8L1009.7 2660.4L1011.3 2664L1012.9 2667.7L1014.6 2671.4L1016.3 2675.1L1018 2678.9L1019.8 2682.7L1021.6 2686.6L1023.5 2690.5L1025.5 2694.5L1027.5 2698.5L1029.6 2702.6L1031.7 2706.6L1033.9 2710.5L1036.2 2714.4L1038.6 2718.1L1041 2721.6L1043.5 2724.9L1046 2727.9L1048.6 2730.7L1051.3 2733.1L1054.1 2735.1L1057 2736.6L1059.9 2737.5L1062.9 2737.6L1066 2737L1069.1 2735.6L1072.3 2733.6L1075.4 2731L1078.5 2728.1L1081.5 2724.8L1084.4 2721.3L1087.2 2717.7L1089.8 2714L1092.2 2710.3L1094.5 2706.7L1096.6 2703.1L1098.7 2699.4L1100.5 2695.8L1102.3 2692.2L1104 2688.6L1105.5 2684.9L1107 2681.3L1108.4 2677.7L1109.8 2674.1L1111.1 2670.5L1112.3 2666.9L1113.5 2663.4L1114.8 2659.8L1115.9 2656.2L1117.1 2652.6L1118.4 2649.1L1119.6 2645.5L1120.8 2641.9L1122.1 2638.4L1123.5 2634.8L1124.9 2631.3L1126.4 2627.7L1127.9 2624.2L1129.6 2620.6L1131.2 2617.1L1132.9 2613.5L1134.7 2610L1136.5 2606.5L1138.4 2602.9L1140.3 2599.4L1142.2 2595.9L1144.2 2592.3L1146.2 2588.8L1148.2 2585.3L1150.3 2581.7L1152.3 2578.2L1154.4 2574.7L1156.5 2571.1L1158.6 2567.6L1160.7 2564.1L1162.8 2560.5L1164.9 2557L1167 2553.4L1169.1 2549.9L1171.2 2546.4L1173.2 2542.8L1175.3 2539.3L1177.3 2535.7L1179.4 2532.2L1181.4 2528.6L1183.3 2525.1L1185.3 2521.5L1187.3 2518L1189.2 2514.4L1191.1 2510.9L1193 2507.3L1194.9 2503.7L1196.7 2500.2L1198.5 2496.6L1200.3 2493L1202.1 2489.5L1203.9 2485.9L1205.6 2482.3L1207.3 2478.7L1208.9 2475.2L1210.5 2471.6L1212.1 2468L1213.7 2464.4L1215.2 2460.8L1216.8 2457.2L1218.2 2453.6L1219.7 2450L1221.2 2446.4L1222.6 2442.8L1224 2439.2L1225.4 2435.6L1226.8 2432L1228.2 2428.4L1229.6 2424.7L1231 2421.1L1232.4 2417.5L1233.8 2413.9L1235.1 2410.2L1236.5 2406.6L1237.9 2403L1239.4 2399.3L1240.8 2395.7L1242.2 2392L1243.7 2388.4L1245.1 2384.7L1246.6 2381.1L1248.2 2377.4L1249.7 2373.7L1251.3 2370.1L1252.9 2366.4L1254.5 2362.7L1256.2 2359.1L1257.8 2355.4L1259.6 2351.7L1261.3 2348.1L1263.1 2344.4L1264.9 2340.8L1266.7 2337.1L1268.6 2333.5L1270.5 2329.9L1272.4 2326.3L1274.4 2322.7L1276.4 2319.2L1278.4 2315.6L1280.5 2312.1L1282.6 2308.7L1284.7 2305.2L1286.9 2301.8L1289.1 2298.4L1291.3 2295L1293.6 2291.7L1295.8 2288.4L1298.2 2285.2L1300.5 2281.9L1302.9 2278.8L1305.3 2275.6L1307.7 2272.5L1310.2 2269.4L1312.6 2266.3L1315 2263.2L1317.5 2260.1L1319.9 2257L1322.3 2254L1324.6 2250.9L1327 2247.7L1329.2 2244.6L1331.5 2241.4L1333.7 2238.2L1335.8 2234.9L1337.8 2231.6L1339.8 2228.3L1341.7 2224.9L1343.6 2221.4L1345.3 2217.8L1347 2214.2L1348.5 2210.6L1350.1 2206.9L1351.5 2203.1L1352.9 2199.3L1354.3 2195.5L1355.6 2191.6L1356.9 2187.8L1358.2 2183.9L1359.5 2180L1360.8 2176.1L1362.1 2172.2L1363.4 2168.4L1364.7 2164.5L1366.1 2160.7L1367.5 2156.9L1368.9 2153.2L1370.4 2149.5L1372 2145.9L1373.7 2142.3L1375.4 2138.7L1377.2 2135.2L1379.1 2131.7L1381 2128.3L1383 2124.9L1385 2121.5L1387.1 2118.1L1389.2 2114.7L1391.4 2111.3L1393.7 2107.8L1396 2104.4L1398.4 2101L1400.8 2097.5L1403.2 2094L1405.7 2090.4L1408.2 2086.8L1410.8 2083.2L1413.4 2079.4L1416 2075.8L1418.6 2072.4L1421.3 2069.4L1424 2067.1L1426.8 2065.5L1429.5 2064.8L1432.3 2064.8L1435 2065.6L1437.8 2067L1440.5 2068.9L1443.2 2071.3L1445.9 2074.1L1448.5 2077.3L1451.1 2080.7L1453.6 2084.3L1456 2088L1458.4 2091.7L1460.6 2095.4L1462.8 2099.1L1464.9 2102.8L1466.9 2106.5L1468.8 2110.1L1470.7 2113.8L1472.6 2117.4L1474.3 2121L1476.1 2124.6L1477.8 2128.2L1479.4 2131.8L1481 2135.4L1482.6 2138.9L1484.2 2142.5L1485.8 2146L1487.4 2149.5L1488.9 2153L1490.5 2156.6L1492.1 2160.1L1493.7 2163.5L1495.3 2167L1496.9 2170.5L1498.6 2174L1500.3 2177.5L1502 2180.9L1503.8 2184.4L1505.6 2187.8L1507.4 2191.3L1509.3 2194.8L1511.2 2198.2L1513.1 2201.7L1515 2205.1L1517 2208.6L1519 2212L1521 2215.5L1523 2219L1525 2222.4L1527.1 2225.9L1529.1 2229.4L1531.2 2232.8L1533.2 2236.3L1535.3 2239.8L1537.3 2243.3L1539.4 2246.8L1541.5 2250.3L1543.5 2253.8L1545.6 2257.4L1547.6 2260.9L1549.7 2264.4L1551.7 2268L1553.7 2271.6L1555.7 2275.1L1557.7 2278.7L1559.7 2282.3L1561.6 2285.9L1563.5 2289.6L1565.5 2293.2L1567.4 2296.8L1569.2 2300.5L1571.1 2304.2L1572.9 2307.8L1574.8 2311.5L1576.6 2315.2L1578.4 2318.8L1580.1 2322.5L1581.9 2326.2L1583.6 2329.9L1585.3 2333.6L1587 2337.3L1588.7 2341L1590.4 2344.7L1592 2348.4L1593.6 2352.1L1595.2 2355.9L1596.8 2359.6L1598.4 2363.3L1599.9 2367L1601.4 2370.7L1602.9 2374.4L1604.4 2378.1L1605.8 2381.7L1607.3 2385.4L1608.7 2389.1L1610.1 2392.8L1611.4 2396.4L1612.8 2400.1L1614.1 2403.8L1615.4 2407.4L1616.7 2411L1618 2414.7L1619.2 2418.3L1620.5 2421.9L1621.8 2425.5L1623.1 2429.1L1624.5 2432.6L1625.8 2436.2L1627.2 2439.7L1628.7 2443.3L1630.1 2446.8L1631.7 2450.3L1633.3 2453.8L1634.9 2457.2L1636.6 2460.7L1638.4 2464.1L1640.3 2467.5L1642.2 2470.9L1644.3 2474.3L1646.4 2477.7L1648.7 2481L1651 2484.3L1653.5 2487.6L1656 2490.9L1658.6 2494.2L1661.3 2497.4L1664 2500.7L1666.7 2503.9L1669.4 2507.2L1672.1 2510.4L1674.8 2513.6L1677.5 2516.9L1680 2520.1L1682.5 2523.4L1684.9 2526.7L1687.2 2529.9L1689.4 2533.2L1691.4 2536.6L1693.3 2539.9L1695.1 2543.3L1696.9 2546.7L1698.5 2550.1L1700.2 2553.6L1701.7 2557.1L1703.3 2560.6L1704.8 2564.2L1706.3 2567.8L1707.8 2571.4L1709.3 2575L1710.7 2578.7L1712.2 2582.4L1713.6 2586.1L1715 2589.9L1716.4 2593.6L1717.8 2597.4L1719.1 2601.2L1720.5 2605L1721.8 2608.8L1723.2 2612.6L1724.6 2616.4L1725.9 2620.3L1727.3 2624.1L1728.7 2627.9L1730 2631.8L1731.4 2635.6L1732.8 2639.4L1734.2 2643.2L1735.6 2647L1737.1 2650.8L1738.5 2654.6L1740 2658.4L1741.5 2662.1L1743 2665.9L1744.5 2669.6L1746.1 2673.3L1747.7 2677L1749.4 2680.6L1751.1 2684.2L1752.9 2687.7L1754.7 2691.2L1756.6 2694.7L1758.6 2698.1L1760.6 2701.4L1762.8 2704.7L1765 2707.9L1767.4 2711.1L1769.8 2714.2L1772.4 2717.2L1775 2720.1L1777.8 2722.9L1780.8 2725.6L1783.8 2728.3L1787 2730.8L1790.4 2733.3L1793.9 2735.6" stroke="#000" stroke-dasharray="32.5 11.5 7.5 10.7" stroke-dashoffset="-4.1"/><path d="M311.8 2744.8L316.7 2745.8L321.1 2745.8L324.9 2745L328.4 2743.4L331.5 2741.3L334.3 2738.7L336.9 2735.8L339.4 2732.7L341.8 2729.5L344.1 2726.2L346.3 2723L348.5 2719.6L350.6 2716.3L352.7 2712.9L354.7 2709.5L356.7 2706L358.6 2702.5L360.4 2699L362.3 2695.5L364.1 2691.9L365.8 2688.3L367.6 2684.7L369.3 2681.1L370.9 2677.4L372.6 2673.8L374.2 2670.1L375.8 2666.4L377.5 2662.7L379 2659L380.6 2655.3L382.2 2651.6L383.8 2647.9L385.4 2644.2L387 2640.5L388.6 2636.8L390.2 2633.1L391.8 2629.4L393.4 2625.8L395.1 2622.1L396.7 2618.5L398.4 2614.8L400.2 2611.2L401.9 2607.6L403.7 2604L405.6 2600.5L407.4 2597L409.3 2593.5L411.2 2590L413.2 2586.5L415.1 2583L417.1 2579.6L419.2 2576.2L421.2 2572.7L423.2 2569.3L425.3 2565.9L427.4 2562.5L429.5 2559.2L431.6 2555.8L433.7 2552.4L435.8 2549.1L437.9 2545.7L440.1 2542.3L442.2 2539L444.3 2535.6L446.5 2532.3L448.6 2528.9L450.7 2525.5L452.8 2522.2L454.9 2518.8L457 2515.4L459.1 2512L461.1 2508.6L463.2 2505.2L465.2 2501.7L467.2 2498.3L469.2 2494.8L471.2 2491.4L473.1 2487.9L475 2484.4L476.9 2480.9L478.8 2477.3L480.6 2473.7L482.4 2470.2L484.1 2466.5L485.8 2462.9L487.5 2459.2L489.1 2455.6L490.7 2451.9L492.3 2448.1L493.9 2444.4L495.4 2440.6L496.9 2436.9L498.4 2433.1L499.8 2429.3L501.3 2425.5L502.8 2421.8L504.2 2418L505.6 2414.2L507.1 2410.4L508.5 2406.6L509.9 2402.8L511.4 2399.1L512.8 2395.3L514.3 2391.6L515.8 2387.9L517.3 2384.2L518.8 2380.5L520.3 2376.8L521.9 2373.2L523.5 2369.6L525.1 2366L526.8 2362.5L528.5 2359L530.2 2355.5L532 2352L533.8 2348.6L535.6 2345.2L537.5 2341.8L539.4 2338.5L541.4 2335.1L543.4 2331.8L545.5 2328.5L547.5 2325.2L549.7 2321.9L551.9 2318.6L554.1 2315.3L556.4 2312L558.7 2308.7L561.1 2305.4L563.5 2302.1L566 2298.8L568.5 2295.5L571.1 2292.1L573.7 2288.8L576.3 2285.4L578.9 2282L581.5 2278.6L584 2275.2L586.4 2271.7L588.8 2268.2L591 2264.7L593 2261.2L594.9 2257.6L596.6 2254L598.1 2250.3L599.5 2246.6L600.8 2242.9L601.9 2239.2L603 2235.5L604 2231.7L604.9 2227.9L605.7 2224.2L606.6 2220.4L607.4 2216.6L608.2 2212.8L609 2209L609.8 2205.3L610.7 2201.5L611.7 2197.8L612.7 2194L613.8 2190.3L615 2186.7L616.3 2183L617.8 2179.4L619.4 2175.8L621.2 2172.2L623.2 2168.7L625.3 2165.3L627.6 2161.8L630.1 2158.4L632.5 2155L635 2151.6L637.4 2148.2L639.6 2144.7L641.7 2141.3L643.6 2137.7L645.4 2134.2L647 2130.6L648.4 2127L649.8 2123.3L651.1 2119.6L652.3 2115.9L653.5 2112.2L654.7 2108.5L655.8 2104.7L657 2100.9L658.2 2097.1L659.4 2093.4L660.7 2089.6L662.1 2085.8L663.6 2081.9L665.2 2078.1L666.9 2074.4L668.9 2070.6L671 2067L673.3 2063.6L675.9 2060.4L678.9 2057.6L682.1 2055.1L685.6 2053.1L689.4 2051.5L693.3 2050.4L697.2 2049.8L701.2 2049.6L705.1 2050L708.9 2050.9L712.5 2052.3L715.7 2054.3L718.6 2056.9L721.2 2059.9L723.5 2063.2L725.6 2066.8L727.4 2070.5L729.1 2074.3L730.7 2078.1L732.1 2081.9L733.4 2085.7L734.5 2089.5L735.6 2093.4L736.7 2097.3L737.7 2101.1L738.6 2105L739.5 2108.9L740.5 2112.7L741.4 2116.6L742.4 2120.4L743.4 2124.2L744.4 2128L745.6 2131.8L746.9 2135.5L748.2 2139.2L749.7 2142.9L751.3 2146.5L753.1 2150L755.1 2153.5L757.1 2157L759.2 2160.5L761.3 2164L763.3 2167.5L765.3 2171.1L767.3 2174.7L769 2178.4L770.6 2182.1L772.1 2185.9L773.3 2189.8L774.6 2193.7L775.7 2197.6L777 2201.4L778.3 2205.2L779.8 2208.9L781.4 2212.4L783.4 2215.8L785.6 2218.9L788.2 2221.9L790.9 2224.7L793.8 2227.4L796.8 2230.1L799.7 2232.8L802.5 2235.6L805.1 2238.5L807.4 2241.6L809.5 2244.8L811.4 2248.1L813.1 2251.6L814.7 2255.1L816.2 2258.7L817.7 2262.3L819.2 2265.9L820.7 2269.6L822.3 2273.2L823.9 2276.9L825.6 2280.5L827.3 2284.1L829 2287.8L830.8 2291.4L832.6 2295.1L834.4 2298.7L836.2 2302.4L838 2306L839.9 2309.6L841.8 2313.3L843.6 2316.9L845.5 2320.6L847.4 2324.2L849.3 2327.9L851.2 2331.5L853.1 2335.2L855 2338.8L856.8 2342.5L858.7 2346.1L860.5 2349.8L862.3 2353.4L864.1 2357.1L865.9 2360.8L867.6 2364.4L869.3 2368.1L871 2371.8L872.6 2375.4L874.2 2379.1L875.7 2382.8L877.3 2386.5L878.7 2390.1L880.1 2393.8L881.5 2397.5L882.8 2401.2L884 2404.9L885.2 2408.6L886.3 2412.3L887.3 2416L888.3 2419.7L889.2 2423.5L890 2427.2L890.8 2430.9L891.6 2434.6L892.4 2438.3L893.2 2442L894.1 2445.8L895.1 2449.5L896.3 2453.1L897.6 2456.8L899.1 2460.5L900.7 2464.1L902.6 2467.8L904.6 2471.4L906.8 2475L909.1 2478.6L911.5 2482.1L914 2485.6L916.6 2489.1L919.2 2492.6L921.9 2496L924.7 2499.4L927.4 2502.8L930.2 2506.1L933 2509.4L935.8 2512.7L938.6 2515.9L941.3 2519.1L944 2522.2L946.7 2525.2L949.3 2528.3L951.9 2531.2L954.4 2534.1L956.8 2537L959.1 2539.8L961.3 2542.5L963.4 2545.2L965.4 2547.9L967.3 2550.6L969.1 2553.4L970.8 2556.4L972.4 2559.7L974 2563.1L975.5 2566.6L977 2570.3L978.4 2574.2L979.8 2578.1L981.2 2582.1L982.5 2586.2L983.9 2590.2L985.3 2594.4L986.6 2598.5L988 2602.5L989.5 2606.5L990.9 2610.5L992.5 2614.3L994 2618.1L995.7 2621.7L997.3 2625.3L998.9 2628.9L1000.5 2632.5L1002.1 2636L1003.6 2639.6L1005.1 2643.2L1006.5 2646.9L1007.9 2650.6L1009.2 2654.3L1010.4 2658.1L1011.7 2661.9L1012.9 2665.8L1014.1 2669.6L1015.3 2673.5L1016.5 2677.3L1017.8 2681.2L1019 2685.1L1020.3 2688.9L1021.7 2692.7L1023.1 2696.6L1024.5 2700.3L1026 2704.1L1027.6 2707.8L1029.3 2711.5L1031.1 2715.1L1033 2718.7L1035 2722.2L1037.2 2725.6L1039.4 2729L1041.8 2732.3L1044.3 2735.5L1047 2738.6L1049.8 2741.7L1052.6 2744.6L1055.6 2747.2L1058.7 2749.2L1061.9 2750.6L1065.1 2750.9L1068.3 2750.3L1071.5 2748.9L1074.7 2747L1077.9 2744.6L1081 2741.9L1084 2739L1087 2735.9L1089.8 2732.6L1092.5 2729.3L1095 2725.9L1097.5 2722.5L1099.8 2719L1102 2715.5L1104.1 2712L1106.1 2708.4L1108 2704.8L1109.8 2701.1L1111.5 2697.5L1113.2 2693.8L1114.8 2690.1L1116.3 2686.4L1117.8 2682.6L1119.3 2678.9L1120.7 2675.2L1122.1 2671.4L1123.5 2667.7L1124.8 2664L1126.2 2660.2L1127.5 2656.5L1128.8 2652.8L1130 2649.1L1131.3 2645.4L1132.6 2641.8L1133.9 2638.1L1135.2 2634.4L1136.5 2630.8L1137.8 2627.2L1139.1 2623.6L1140.5 2620L1142 2616.4L1143.4 2612.8L1144.9 2609.2L1146.5 2605.6L1148.1 2602L1149.8 2598.5L1151.6 2594.9L1153.4 2591.3L1155.4 2587.8L1157.4 2584.2L1159.4 2580.7L1161.6 2577.1L1163.7 2573.6L1165.9 2570.1L1168.1 2566.5L1170.3 2563L1172.4 2559.5L1174.5 2555.9L1176.6 2552.4L1178.7 2548.9L1180.7 2545.3L1182.8 2541.8L1184.8 2538.3L1186.8 2534.7L1188.8 2531.2L1190.7 2527.6L1192.7 2524.1L1194.6 2520.6L1196.5 2517L1198.4 2513.5L1200.3 2509.9L1202.1 2506.4L1203.9 2502.8L1205.7 2499.3L1207.5 2495.7L1209.3 2492.1L1211 2488.6L1212.7 2485L1214.5 2481.4L1216.1 2477.8L1217.8 2474.2L1219.5 2470.6L1221.1 2467L1222.7 2463.4L1224.3 2459.8L1225.8 2456.2L1227.4 2452.6L1228.9 2448.9L1230.4 2445.3L1231.9 2441.6L1233.4 2438L1234.8 2434.3L1236.2 2430.6L1237.6 2427L1239 2423.3L1240.4 2419.6L1241.7 2415.9L1243.1 2412.1L1244.4 2408.4L1245.7 2404.7L1247 2401L1248.3 2397.2L1249.6 2393.5L1250.9 2389.8L1252.3 2386L1253.6 2382.3L1254.9 2378.5L1256.3 2374.8L1257.7 2371.1L1259.1 2367.3L1260.5 2363.6L1261.9 2359.9L1263.4 2356.2L1265 2352.5L1266.5 2348.8L1268.1 2345.1L1269.8 2341.4L1271.5 2337.7L1273.2 2334.1L1275 2330.5L1276.9 2326.8L1278.7 2323.2L1280.7 2319.6L1282.6 2316.1L1284.6 2312.5L1286.6 2309L1288.7 2305.5L1290.8 2302L1292.9 2298.5L1295 2295.1L1297.2 2291.6L1299.4 2288.2L1301.6 2284.9L1303.8 2281.5L1306.1 2278.2L1308.3 2274.9L1310.6 2271.6L1312.8 2268.4L1315.1 2265.1L1317.4 2261.8L1319.6 2258.6L1321.9 2255.3L1324.1 2252.1L1326.3 2248.8L1328.5 2245.6L1330.7 2242.3L1332.9 2239L1335 2235.7L1337.1 2232.3L1339.1 2229L1341.1 2225.6L1343.1 2222.1L1345 2218.7L1346.9 2215.2L1348.7 2211.7L1350.5 2208.1L1352.2 2204.5L1353.9 2200.9L1355.6 2197.2L1357.2 2193.6L1358.7 2189.8L1360.2 2186.1L1361.7 2182.3L1363.1 2178.5L1364.4 2174.7L1365.7 2170.8L1367 2167L1368.2 2163.1L1369.3 2159.1L1370.5 2155.2L1371.5 2151.2L1372.5 2147.2L1373.5 2143.2L1374.5 2139.2L1375.5 2135.3L1376.6 2131.4L1377.7 2127.6L1378.9 2123.9L1380.1 2120.3L1381.5 2116.8L1383 2113.4L1384.6 2110.1L1386.3 2106.9L1388.1 2103.7L1390.1 2100.6L1392.1 2097.5L1394.3 2094.4L1396.7 2091.2L1399.1 2087.9L1401.7 2084.6L1404.3 2081.2L1407.1 2077.7L1410.1 2074L1413.1 2070.4L1416.3 2067L1419.6 2064L1423.1 2061.4L1426.6 2059.6L1430.3 2058.5L1434 2058.2L1437.8 2058.4L1441.4 2059.2L1445 2060.6L1448.4 2062.4L1451.7 2064.6L1454.7 2067.1L1457.5 2069.9L1460.1 2073L1462.5 2076.2L1464.8 2079.5L1466.9 2082.9L1469 2086.3L1470.9 2089.7L1472.8 2093.2L1474.5 2096.7L1476.2 2100.2L1477.8 2103.7L1479.4 2107.3L1480.9 2110.8L1482.4 2114.4L1483.8 2118L1485.2 2121.6L1486.6 2125.2L1488 2128.9L1489.4 2132.5L1490.7 2136.2L1492.1 2139.8L1493.5 2143.5L1495 2147.1L1496.5 2150.8L1498 2154.5L1499.6 2158.1L1501.2 2161.8L1502.9 2165.5L1504.7 2169.1L1506.6 2172.8L1508.6 2176.4L1510.7 2180.1L1512.9 2183.7L1515.1 2187.3L1517.4 2190.9L1519.7 2194.5L1522 2198.1L1524.2 2201.7L1526.3 2205.2L1528.2 2208.8L1530 2212.3L1531.7 2215.9L1533.4 2219.4L1535 2223L1536.5 2226.5L1538 2230L1539.6 2233.5L1541.1 2237L1542.7 2240.5L1544.4 2244.1L1546.2 2247.6L1548.1 2251.1L1550.1 2254.5L1552.3 2258L1554.5 2261.5L1556.8 2265L1559.1 2268.5L1561.4 2272L1563.7 2275.5L1565.9 2279L1568.1 2282.5L1570.2 2286L1572.3 2289.5L1574.4 2292.9L1576.4 2296.4L1578.3 2299.9L1580.3 2303.4L1582.1 2307L1584 2310.5L1585.8 2314L1587.6 2317.5L1589.3 2321L1591 2324.5L1592.7 2328.1L1594.3 2331.6L1596 2335.2L1597.6 2338.7L1599.1 2342.3L1600.7 2345.9L1602.2 2349.5L1603.8 2353L1605.3 2356.6L1606.7 2360.2L1608.2 2363.9L1609.7 2367.5L1611.1 2371.1L1612.6 2374.8L1614 2378.5L1615.5 2382.1L1616.9 2385.8L1618.3 2389.5L1619.8 2393.2L1621.2 2397L1622.6 2400.7L1624.1 2404.5L1625.5 2408.2L1627 2412L1628.4 2415.8L1629.9 2419.6L1631.4 2423.4L1632.8 2427.2L1634.3 2431L1635.8 2434.8L1637.3 2438.6L1638.8 2442.4L1640.3 2446.1L1641.8 2449.9L1643.3 2453.7L1644.8 2457.5L1646.3 2461.3L1647.9 2465L1649.4 2468.8L1651 2472.5L1652.6 2476.2L1654.1 2479.9L1655.7 2483.6L1657.3 2487.3L1658.9 2490.9L1660.6 2494.5L1662.2 2498.1L1663.9 2501.7L1665.6 2505.2L1667.4 2508.6L1669.3 2512L1671.3 2515.3L1673.4 2518.5L1675.6 2521.6L1677.9 2524.6L1680.3 2527.6L1682.9 2530.4L1685.7 2533L1688.7 2535.6L1691.7 2538.1L1694.7 2540.6L1697.4 2543.4L1699.7 2546.5L1701.7 2549.9L1703.5 2553.4L1705.1 2557.2L1706.5 2561L1707.9 2565L1709.2 2568.9L1710.7 2572.8L1712.2 2576.7L1713.9 2580.5L1715.6 2584.2L1717.4 2587.8L1719.3 2591.4L1721.1 2595L1723 2598.5L1724.9 2602.1L1726.7 2605.6L1728.5 2609.1L1730.2 2612.7L1731.8 2616.2L1733.4 2619.8L1734.9 2623.4L1736.4 2627L1737.8 2630.6L1739.2 2634.3L1740.5 2637.9L1741.8 2641.6L1743 2645.3L1744.2 2649.1L1745.3 2652.8L1746.4 2656.6L1747.5 2660.5L1748.5 2664.3L1749.5 2668.2L1750.5 2672.2L1751.4 2676.2L1752.3 2680.2L1753.2 2684.2L1754.1 2688.3L1754.9 2692.4L1755.8 2696.5L1756.7 2700.6L1757.7 2704.6L1758.8 2708.6L1760 2712.5L1761.3 2716.3L1762.7 2720L1764.4 2723.5L1766.2 2726.9L1768.2 2730.1L1770.4 2733.1L1772.9 2735.8L1775.7 2738.4L1778.7 2740.6L1782.1 2742.6L1785.8 2744.3L1789.8 2745.7L1794.1 2746.8" stroke="#cc0000" stroke-dasharray="48.00 14.20" stroke-dashoffset="-3.7"/></g><g fill="none" stroke-width="7.3" stroke="#cc0000" shape-rendering="crispEdges"><polygon points="315.8,2794.7 352.9,2794.7 334.4,2827.5"/><polygon points="338.8,2719.2 376,2719.2 357.4,2752"/><polygon points="384.9,2647.2 422,2647.2 403.5,2680"/><polygon points="430.9,2570.7 468.1,2570.7 449.5,2603.5"/><polygon points="453.9,2502.7 491.1,2502.7 472.6,2535.5"/><polygon points="500,2425.7 537.2,2425.7 518.6,2458.5"/><polygon points="523,2349.7 560.2,2349.7 541.7,2382.5"/><polygon points="569.1,2287.2 606.3,2287.2 587.7,2320"/><polygon points="592.1,2212.7 629.3,2212.7 610.8,2245.5"/><polygon points="592.1,2130.7 629.3,2130.7 610.8,2163.5"/><polygon points="615.2,2056.7 652.3,2056.7 633.8,2089.5"/><polygon points="661.2,1980.7 698.4,1980.7 679.8,2013.5"/><polygon points="707.3,2007.7 744.5,2007.7 725.9,2040.5"/><polygon points="730.3,2082.7 767.5,2082.7 748.9,2115.5"/><polygon points="753.3,2149.7 790.5,2149.7 772,2182.5"/><polygon points="799.4,2213.2 836.6,2213.2 818,2246"/><polygon points="845.5,2294.7 882.6,2294.7 864.1,2327.5"/><polygon points="868.5,2365.2 905.7,2365.2 887.1,2398"/><polygon points="914.5,2430.7 951.7,2430.7 933.2,2463.5"/><polygon points="937.6,2504.7 974.8,2504.7 956.2,2537.5"/><polygon points="960.6,2580.7 997.8,2580.7 979.2,2613.5"/><polygon points="983.6,2662.2 1020.8,2662.2 1002.3,2695"/><polygon points="1006.7,2737.2 1043.8,2737.2 1025.3,2770"/><polygon points="1029.7,2802.2 1066.9,2802.2 1048.3,2835"/><polygon points="1075.8,2775.2 1112.9,2775.2 1094.4,2808"/><polygon points="1098.8,2710.7 1136,2710.7 1117.4,2743.5"/><polygon points="1121.8,2638.2 1159,2638.2 1140.4,2671"/><polygon points="1167.9,2575.2 1205.1,2575.2 1186.5,2608"/><polygon points="1190.9,2510.2 1228.1,2510.2 1209.5,2543"/><polygon points="1213.9,2438.2 1251.1,2438.2 1232.6,2471"/><polygon points="1260,2380.2 1297.2,2380.2 1278.6,2413"/><polygon points="1283,2312.7 1320.2,2312.7 1301.7,2345.5"/><polygon points="1306.1,2244.7 1343.2,2244.7 1324.7,2277.5"/><polygon points="1329.1,2174.7 1366.3,2174.7 1347.7,2207.5"/><polygon points="1352.1,2094.2 1389.3,2094.2 1370.7,2127"/><polygon points="1375.1,2022.2 1412.3,2022.2 1393.8,2055"/><polygon points="1398.2,1955.2 1435.4,1955.2 1416.8,1988"/><polygon points="1444.2,1991.7 1481.4,1991.7 1462.9,2024.5"/><polygon points="1467.3,2058.7 1504.4,2058.7 1485.9,2091.5"/><polygon points="1490.3,2128.2 1527.5,2128.2 1508.9,2161"/><polygon points="1536.4,2202.7 1573.5,2202.7 1555,2235.5"/><polygon points="1559.4,2282.2 1596.6,2282.2 1578,2315"/><polygon points="1605.4,2340.2 1642.6,2340.2 1624.1,2373"/><polygon points="1628.5,2409.2 1665.7,2409.2 1647.1,2442"/><polygon points="1674.5,2484.2 1711.7,2484.2 1693.2,2517"/><polygon points="1697.6,2558.7 1734.7,2558.7 1716.2,2591.5"/></g><g fill="none" stroke-width="7.3" stroke="#00cc00" shape-rendering="crispEdges"><polygon points="303.1,2784.2 335.6,2766.5 335.6,2802.3"/><polygon points="338.4,2708.9 370.9,2691.2 370.9,2727"/><polygon points="373.4,2638 405.9,2620.3 405.9,2656.1"/><polygon points="409.9,2564.4 442.4,2546.7 442.4,2582.5"/><polygon points="446.1,2485.6 478.6,2467.9 478.6,2503.7"/><polygon points="489.9,2416.8 522.4,2399.1 522.4,2434.9"/><polygon points="523.4,2333 555.9,2315.3 555.9,2351.1"/><polygon points="576,2257.5 608.5,2239.8 608.5,2275.6"/><polygon points="608.2,2184.1 640.6,2166.4 640.6,2202.2"/><polygon points="626.7,2107.7 659.1,2090 659.1,2125.8"/><polygon points="651.4,2029.6 683.9,2011.9 683.9,2047.7"/><polygon points="692,2069.8 724.5,2052.1 724.5,2087.9"/><polygon points="726.2,2142.6 758.6,2124.9 758.6,2160.7"/><polygon points="773.9,2207.3 806.4,2189.6 806.4,2225.4"/><polygon points="801.4,2288.3 833.9,2270.6 833.9,2306.4"/><polygon points="844.7,2355.7 877.1,2338 877.1,2373.8"/><polygon points="878.4,2435.6 910.9,2417.9 910.9,2453.7"/><polygon points="920,2511.8 952.5,2494.1 952.5,2529.9"/><polygon points="962.9,2582.1 995.4,2564.4 995.4,2600.2"/><polygon points="988,2662.8 1020.4,2645.1 1020.4,2680.9"/><polygon points="1008.8,2746 1041.2,2728.3 1041.2,2764.1"/><polygon points="1049.4,2778.9 1081.8,2761.2 1081.8,2797"/><polygon points="1081.4,2698.3 1113.8,2680.6 1113.8,2716.4"/><polygon points="1126.8,2632.2 1159.2,2614.5 1159.2,2650.3"/><polygon points="1158.1,2552.3 1190.5,2534.6 1190.5,2570.4"/><polygon points="1192.6,2477.2 1225,2459.5 1225,2495.3"/><polygon points="1235.4,2400.3 1267.8,2382.6 1267.8,2418.4"/><polygon points="1265.4,2322.6 1297.8,2304.9 1297.8,2340.7"/><polygon points="1317.9,2250.3 1350.3,2232.6 1350.3,2268.4"/><polygon points="1347.9,2172.1 1380.3,2154.4 1380.3,2190.2"/><polygon points="1370.1,2092 1402.5,2074.3 1402.5,2110.1"/><polygon points="1390.9,2011.3 1423.3,1993.6 1423.3,2029.4"/><polygon points="1438.7,2076 1471.1,2058.3 1471.1,2094.1"/><polygon points="1479.4,2150.5 1511.8,2132.8 1511.8,2168.6"/><polygon points="1515.8,2220.7 1548.2,2203 1548.2,2238.8"/><polygon points="1547.8,2303.7 1580.2,2286 1580.2,2321.8"/><polygon points="1593.4,2374.6 1625.8,2356.9 1625.8,2392.7"/><polygon points="1620.4,2451 1652.8,2433.3 1652.8,2469.1"/></g>
<g fill="none" stroke-width="8" shape-rendering="crispEdges"><line x1="921" y1="2867.5" x2="1166" y2="2867.5" stroke="#00ffff"/><line x1="921" y1="2932.3" x2="1166" y2="2932.3" stroke="#000" stroke-dasharray="32.5 11.5 7.5 10.7"/><line x1="921" y1="2997.1" x2="1166" y2="2997.1" stroke="#cc0000" stroke-dasharray="48 14.2"/></g><g fill="none" stroke-width="7.3" stroke-linejoin="miter" shape-rendering="crispEdges"><polygon points="1023.6,3051.8 1060.7,3051.8 1042.2,3084.6" stroke="#cc0000"/><polygon points="1022,3128.6 1054.4,3110.9 1054.4,3146.7" stroke="#00cc00"/></g><g font-family='"Liberation Serif", "DejaVu Serif", serif' font-size="54.3" font-weight="bold" fill="#000"><text x="1206.5" y="2884.1" textLength="404.4">present <tspan font-weight="normal">Δ</tspan><tspan font-style="italic">x</tspan>=0.01<tspan font-style="italic" font-weight="normal">L</tspan></text><text x="1206.5" y="2948.9" textLength="430.5">present <tspan font-weight="normal">Δ</tspan><tspan font-style="italic">x</tspan>=0.005<tspan font-style="italic" font-weight="normal">L</tspan></text><text x="1206.5" y="3013.7" textLength="457">present <tspan font-weight="normal">Δ</tspan><tspan font-style="italic">x</tspan>=0.0025<tspan font-style="italic" font-weight="normal">L</tspan></text><text x="1204.5" y="3078.5" textLength="520.9">de Tullio and Pascazio</text><text x="1206.5" y="3143.3" textLength="309">Lee and Choi</text></g>
<g stroke="#000" shape-rendering="crispEdges"><line x1="315.5" y1="3151" x2="335" y2="3151" stroke-width="1.5"/><line x1="315.5" y1="3097.4" x2="335" y2="3097.4" stroke-width="1.5"/><line x1="315.5" y1="3043.7" x2="335" y2="3043.7" stroke-width="1.5"/><line x1="315.5" y1="2990.1" x2="335" y2="2990.1" stroke-width="1.5"/><line x1="315.5" y1="2882.7" x2="335" y2="2882.7" stroke-width="1.5"/><line x1="315.5" y1="2829.1" x2="335" y2="2829.1" stroke-width="1.5"/><line x1="315.5" y1="2775.4" x2="335" y2="2775.4" stroke-width="1.5"/><line x1="315.5" y1="2721.8" x2="335" y2="2721.8" stroke-width="1.5"/><line x1="315.5" y1="2614.4" x2="335" y2="2614.4" stroke-width="1.5"/><line x1="315.5" y1="2560.8" x2="335" y2="2560.8" stroke-width="1.5"/><line x1="315.5" y1="2507.1" x2="335" y2="2507.1" stroke-width="1.5"/><line x1="315.5" y1="2453.5" x2="335" y2="2453.5" stroke-width="1.5"/><line x1="315.5" y1="2346.1" x2="335" y2="2346.1" stroke-width="1.5"/><line x1="315.5" y1="2292.5" x2="335" y2="2292.5" stroke-width="1.5"/><line x1="315.5" y1="2238.8" x2="335" y2="2238.8" stroke-width="1.5"/><line x1="315.5" y1="2185.2" x2="335" y2="2185.2" stroke-width="1.5"/><line x1="315.5" y1="2077.8" x2="335" y2="2077.8" stroke-width="1.5"/><line x1="315.5" y1="2024.2" x2="335" y2="2024.2" stroke-width="1.5"/><line x1="315.5" y1="1970.5" x2="335" y2="1970.5" stroke-width="1.5"/><line x1="315.5" y1="1916.9" x2="335" y2="1916.9" stroke-width="1.5"/><line x1="315.5" y1="2131.5" x2="347.5" y2="2131.5" stroke-width="7.4"/><line x1="315.5" y1="2399.8" x2="347.5" y2="2399.8" stroke-width="7.4"/><line x1="315.5" y1="2668.1" x2="347.5" y2="2668.1" stroke-width="7.4"/><line x1="315.5" y1="2936.4" x2="347.5" y2="2936.4" stroke-width="7.4"/><line x1="389.9" y1="3204.5" x2="389.9" y2="3186" stroke-width="1.5"/><line x1="463.5" y1="3204.5" x2="463.5" y2="3186" stroke-width="1.5"/><line x1="537.2" y1="3204.5" x2="537.2" y2="3186" stroke-width="1.5"/><line x1="610.9" y1="3204.5" x2="610.9" y2="3186" stroke-width="1.5"/><line x1="684.5" y1="3204.5" x2="684.5" y2="3172.5" stroke-width="7.4"/><line x1="758.2" y1="3204.5" x2="758.2" y2="3186" stroke-width="1.5"/><line x1="831.9" y1="3204.5" x2="831.9" y2="3186" stroke-width="1.5"/><line x1="905.6" y1="3204.5" x2="905.6" y2="3186" stroke-width="1.5"/><line x1="979.2" y1="3204.5" x2="979.2" y2="3186" stroke-width="1.5"/><line x1="1052.9" y1="3204.5" x2="1052.9" y2="3172.5" stroke-width="7.4"/><line x1="1126.6" y1="3204.5" x2="1126.6" y2="3186" stroke-width="1.5"/><line x1="1200.2" y1="3204.5" x2="1200.2" y2="3186" stroke-width="1.5"/><line x1="1273.9" y1="3204.5" x2="1273.9" y2="3186" stroke-width="1.5"/><line x1="1347.6" y1="3204.5" x2="1347.6" y2="3186" stroke-width="1.5"/><line x1="1421.2" y1="3204.5" x2="1421.2" y2="3172.5" stroke-width="7.4"/><line x1="1494.9" y1="3204.5" x2="1494.9" y2="3186" stroke-width="1.5"/><line x1="1568.6" y1="3204.5" x2="1568.6" y2="3186" stroke-width="1.5"/><line x1="1642.3" y1="3204.5" x2="1642.3" y2="3186" stroke-width="1.5"/><line x1="1715.9" y1="3204.5" x2="1715.9" y2="3186" stroke-width="1.5"/><rect x="315.5" y="1863.5" width="1474.5" height="1341" fill="none" stroke-width="7.4"/></g><g font-family='"Liberation Serif", "DejaVu Serif", serif' font-size="76" fill="#000"><text x="299.6" y="1889.2" text-anchor="end">2</text><text x="297" y="2425.8" text-anchor="end">0</text><text x="299.6" y="2962.4" text-anchor="end">-2</text><text x="316.2" y="3270.7" text-anchor="middle">0</text><text x="684.5" y="3270.7" text-anchor="middle">0.5</text><text x="1052.9" y="3270.7" text-anchor="middle">1</text><text x="1421.3" y="3270.7" text-anchor="middle">1.5</text><text x="1789.6" y="3270.7" text-anchor="middle">2</text></g>
</g>
<g font-family='"Liberation Serif", "DejaVu Serif", serif' fill="#000">
<text x="1002.5" y="1664" font-size="84" font-weight="bold" font-style="italic">t/T</text>
<text x="1002.5" y="3354.5" font-size="84" font-weight="bold" font-style="italic">t/T</text>
<text transform="translate(176,883) rotate(-90)" font-size="84" font-weight="bold" font-style="italic">C<tspan font-size="51" dy="25" dx="-4">d</tspan></text>
<text transform="translate(176,2569) rotate(-90)" font-size="84" font-weight="bold" font-style="italic">C<tspan font-size="51" dy="25" dx="-2">l</tspan></text>
<g transform="translate(0,96.6)">
<text x="84.3" y="0" font-size="85.5" textLength="24" lengthAdjust="spacingAndGlyphs">(</text>
<text x="110.2" y="0" font-size="82.5" font-weight="bold">a</text>
<text x="152.5" y="0" font-size="85.5" textLength="24" lengthAdjust="spacingAndGlyphs">)</text>
</g>
<g transform="translate(0,1787)">
<text x="84.3" y="0" font-size="85.5" textLength="24" lengthAdjust="spacingAndGlyphs">(</text>
<text x="110.7" y="0" font-size="82.5" font-weight="bold" textLength="50.5" lengthAdjust="spacingAndGlyphs">b</text>
<text x="160.5" y="0" font-size="85.5" textLength="24" lengthAdjust="spacingAndGlyphs">)</text>
</g>
</g>
</svg></body></html>
